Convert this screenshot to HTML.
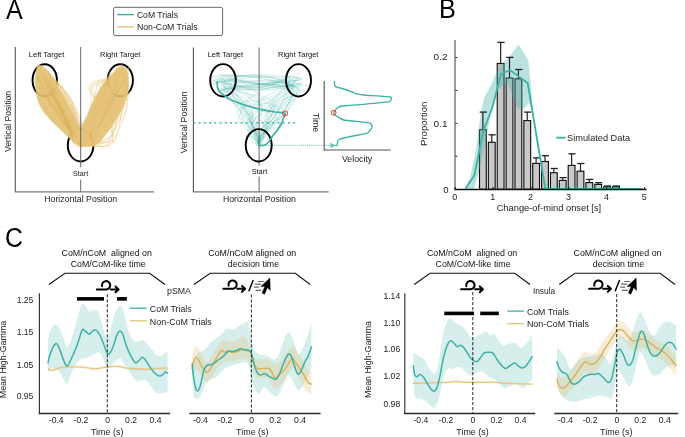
<!DOCTYPE html>
<html><head><meta charset="utf-8"><style>
html,body{margin:0;padding:0;background:#fff;}
svg{display:block;will-change:transform;}
text{font-family:"Liberation Sans",sans-serif;}
</style></head><body>
<svg width="685" height="437" viewBox="0 0 685 437">
<rect width="685" height="437" fill="#fff"/>
<text x="0" y="0" font-size="27" fill="#000" transform="translate(6.1,18.6) scale(0.93,1)">A</text>
<rect x="113.6" y="7.3" width="109" height="28.3" rx="1.8" fill="#fff" stroke="#555" stroke-width="0.9"/>
<line x1="117.1" y1="14.6" x2="133.9" y2="14.6" stroke="#3fb1a5" stroke-width="1.4" />
<line x1="117.1" y1="26.9" x2="133.9" y2="26.9" stroke="#e6c47a" stroke-width="1.4" />
<text x="136.9" y="17.9" font-size="8.7" text-anchor="start" fill="#222" textLength="41.2" lengthAdjust="spacingAndGlyphs" >CoM Trials</text>
<text x="136.9" y="30.1" font-size="8.7" text-anchor="start" fill="#222" textLength="60.8" lengthAdjust="spacingAndGlyphs" >Non-CoM Trials</text>
<ellipse cx="44.75" cy="80.3" rx="12.2" ry="16.1" fill="none" stroke="#000" stroke-width="1.9"/>
<ellipse cx="120.3" cy="80.3" rx="12.6" ry="16.1" fill="none" stroke="#000" stroke-width="1.9"/>
<ellipse cx="80.6" cy="145.3" rx="12.8" ry="16.2" fill="none" stroke="#000" stroke-width="1.9"/>
<path d="M38.3,65.2 C38.71,65.3 41.16,65.28 42.4,66.2 C43.64,67.12 49.36,72.75 50.7,74.4 C52.04,76.05 54.87,81.05 55.8,82.7 C56.73,84.35 59.07,89.05 60,90.9 C60.93,92.75 64.07,99.14 65.1,101.2 C66.13,103.26 69.27,109.64 70.3,111.5 C71.33,113.36 74.48,118.15 75.4,119.8 C76.32,121.45 78.78,126.56 79.5,128 C80.22,129.44 82.15,132.7 82.6,134.2 C83.05,135.7 84.21,141.79 84,143 C83.79,144.21 81.4,146.25 80.5,146.3 C79.6,146.35 76.25,144.48 75,143.5 C73.75,142.52 69.3,137.8 68,136.5 C66.7,135.2 63.2,131.65 62,130.5 C60.8,129.35 57.13,126.07 56,125 C54.87,123.93 52.06,121.35 50.7,119.8 C49.34,118.25 43.64,111.36 42.4,109.5 C41.16,107.64 38.92,103.06 38.3,101.2 C37.68,99.34 36.51,92.96 36.2,90.9 C35.89,88.84 35.2,82.45 35.2,80.6 C35.2,78.75 35.89,73.94 36.2,72.4 C36.51,70.86 38.09,65.92 38.3,65.2 Z" fill="#e2bf6e" fill-opacity="0.9" stroke="#e6c47a" stroke-opacity="0.55" stroke-width="1.4" stroke-linejoin="round"/>
<path d="M121.3,66.2 C121.82,66.51 125.78,67.86 126.5,69.3 C127.22,70.74 128.4,78.23 128.5,80.6 C128.6,82.97 127.91,90.94 127.5,93 C127.09,95.06 125.23,99.14 124.4,101.2 C123.57,103.26 120.34,111.33 119.2,113.6 C118.06,115.87 114.23,122.04 113,123.9 C111.77,125.76 108.2,130.44 106.9,132.2 C105.6,133.96 101.29,140.17 100,141.5 C98.71,142.83 95.4,145 94,145.5 C92.6,146 87.4,146.42 86,146.5 C84.6,146.58 80.65,146.95 80,146.3 C79.35,145.65 79.49,141.83 79.5,140 C79.51,138.17 79.63,129.81 80.1,128 C80.57,126.19 83.38,123.34 84.2,121.9 C85.02,120.46 87.48,115.46 88.3,113.6 C89.12,111.74 91.57,105.16 92.4,103.3 C93.23,101.44 95.57,96.86 96.6,95 C97.63,93.14 101.47,86.34 102.7,84.7 C103.93,83.06 107.35,80.25 108.9,78.6 C110.45,76.95 116.96,69.44 118.2,68.2 C119.44,66.96 120.99,66.4 121.3,66.2 Z" fill="#e2bf6e" fill-opacity="0.9" stroke="#e6c47a" stroke-opacity="0.55" stroke-width="1.4" stroke-linejoin="round"/>
<g fill="none" stroke-width="0.8" stroke-opacity="0.35">
<path d="M75.24,133.96 L73.42,129.17 L71.56,124.39 L69.65,119.64 L67.69,114.91 L65.68,110.2 L63.62,105.52 L61.52,100.85 L59.37,96.21 L57.17,91.59 L54.93,86.99 L52.63,82.41 L50.29,77.86 L47.9,73.32 L45.46,68.81" stroke="#f2dca8"/>
<path d="M77.83,143.83 L75.19,138.45 L72.54,133.08 L69.88,127.72 L67.21,122.36 L64.53,117.01 L61.83,111.67 L59.12,106.33 L56.39,101 L53.66,95.68 L50.91,90.36 L48.15,85.05 L45.38,79.74 L42.59,74.44 L39.79,69.15" stroke="#d6ad55"/>
<path d="M72.91,137.52 L70.81,132.82 L68.76,128.09 L66.75,123.36 L64.79,118.6 L62.88,113.83 L61.01,109.04 L59.19,104.23 L57.42,99.41 L55.69,94.56 L54.01,89.71 L52.37,84.83 L50.79,79.93 L49.24,75.02 L47.75,70.1" stroke="#dcb660"/>
<path d="M77.83,132.8 L75.17,128.34 L72.55,123.86 L69.97,119.35 L67.45,114.82 L64.96,110.26 L62.52,105.69 L60.13,101.09 L57.78,96.46 L55.47,91.82 L53.21,87.15 L50.99,82.45 L48.82,77.74 L46.69,73 L44.61,68.24" stroke="#dcb660"/>
<path d="M80.58,135.76 L77.49,131.14 L74.41,126.5 L71.34,121.85 L68.3,117.19 L65.28,112.52 L62.27,107.84 L59.28,103.14 L56.31,98.43 L53.36,93.71 L50.43,88.98 L47.51,84.24 L44.61,79.49 L41.74,74.72 L38.88,69.94" stroke="#dcb660"/>
<path d="M73.81,139.56 L72.11,134.89 L70.35,130.25 L68.55,125.62 L66.69,121.03 L64.79,116.45 L62.83,111.9 L60.82,107.37 L58.75,102.86 L56.64,98.38 L54.48,93.92 L52.26,89.48 L49.99,85.07 L47.68,80.68 L45.31,76.31" stroke="#d6ad55"/>
<path d="M77.64,140.05 L75.94,135.35 L74.13,130.73 L72.2,126.17 L70.15,121.67 L68,117.24 L65.73,112.87 L63.34,108.57 L60.84,104.34 L58.23,100.17 L55.5,96.06 L52.66,92.02 L49.71,88.05 L46.64,84.14 L43.45,80.29" stroke="#f2dca8"/>
<path d="M77.86,137.89 L75.77,133.84 L73.6,129.86 L71.35,125.93 L69.01,122.07 L66.58,118.27 L64.07,114.53 L61.48,110.86 L58.79,107.24 L56.02,103.69 L53.17,100.2 L50.23,96.77 L47.2,93.41 L44.09,90.1 L40.9,86.86" stroke="#d6ad55"/>
<path d="M72.82,135.9 L70.86,131.53 L68.88,127.16 L66.88,122.8 L64.86,118.46 L62.81,114.12 L60.75,109.8 L58.66,105.49 L56.55,101.18 L54.42,96.89 L52.26,92.61 L50.09,88.34 L47.89,84.08 L45.68,79.83 L43.44,75.59" stroke="#dcb660"/>
<path d="M81.8,133.53 L78.63,130.44 L75.5,127.29 L72.44,124.1 L69.43,120.86 L66.48,117.58 L63.58,114.25 L60.74,110.87 L57.96,107.44 L55.23,103.97 L52.56,100.46 L49.95,96.9 L47.39,93.29 L44.88,89.63 L42.44,85.93" stroke="#f2dca8"/>
<path d="M76.22,144.51 L74.24,139.51 L72.15,134.59 L69.94,129.74 L67.62,124.95 L65.18,120.24 L62.62,115.6 L59.95,111.02 L57.17,106.52 L54.26,102.08 L51.24,97.72 L48.11,93.42 L44.86,89.2 L41.49,85.04 L38.01,80.95" stroke="#f2dca8"/>
<path d="M75.4,136.55 L72.57,133.36 L69.83,130.11 L67.17,126.81 L64.59,123.45 L62.1,120.05 L59.69,116.58 L57.37,113.06 L55.13,109.49 L52.97,105.87 L50.9,102.18 L48.91,98.45 L47.01,94.66 L45.19,90.82 L43.46,86.92" stroke="#d6ad55"/>
<path d="M81.45,138.16 L79.51,132.87 L77.47,127.63 L75.34,122.43 L73.11,117.29 L70.79,112.19 L68.37,107.14 L65.86,102.15 L63.26,97.2 L60.56,92.29 L57.76,87.44 L54.87,82.64 L51.89,77.88 L48.81,73.17 L45.63,68.52" stroke="#dcb660"/>
<path d="M77.78,140.86 L76.2,136.28 L74.48,131.8 L72.62,127.41 L70.62,123.1 L68.47,118.88 L66.19,114.75 L63.76,110.71 L61.19,106.76 L58.48,102.9 L55.62,99.13 L52.63,95.44 L49.49,91.84 L46.21,88.34 L42.79,84.92" stroke="#f2dca8"/>
<path d="M72.23,138 L69.26,133.43 L66.39,128.82 L63.61,124.16 L60.93,119.45 L58.34,114.7 L55.84,109.91 L53.43,105.07 L51.12,100.18 L48.9,95.25 L46.77,90.28 L44.73,85.26 L42.79,80.19 L40.94,75.08 L39.18,69.93" stroke="#f2dca8"/>
<path d="M73.29,135.22 L70.55,132.25 L67.88,129.23 L65.29,126.15 L62.78,123.02 L60.35,119.84 L58,116.61 L55.73,113.32 L53.54,109.97 L51.43,106.58 L49.4,103.12 L47.45,99.62 L45.58,96.06 L43.79,92.45 L42.08,88.79" stroke="#f2dca8"/>
<path d="M76.02,135.61 L73.67,131.28 L71.27,126.98 L68.83,122.7 L66.34,118.46 L63.8,114.25 L61.21,110.08 L58.58,105.93 L55.89,101.81 L53.16,97.73 L50.38,93.67 L47.55,89.65 L44.68,85.66 L41.75,81.69 L38.78,77.76" stroke="#dcb660"/>
<path d="M76.15,136.66 L73.77,133.64 L71.45,130.59 L69.19,127.49 L67,124.36 L64.87,121.19 L62.8,117.98 L60.79,114.73 L58.85,111.45 L56.96,108.12 L55.14,104.76 L53.39,101.37 L51.69,97.93 L50.06,94.46 L48.49,90.94" stroke="#d6ad55"/>
<path d="M73.51,140.56 L70.58,137.02 L67.7,133.45 L64.87,129.84 L62.09,126.19 L59.36,122.51 L56.69,118.8 L54.07,115.04 L51.49,111.26 L48.98,107.43 L46.51,103.57 L44.09,99.68 L41.73,95.75 L39.42,91.78 L37.16,87.78" stroke="#f2dca8"/>
<path d="M72.04,137.45 L70.96,132.85 L69.72,128.33 L68.3,123.91 L66.73,119.58 L64.98,115.33 L63.07,111.18 L60.99,107.11 L58.75,103.14 L56.34,99.25 L53.77,95.45 L51.02,91.75 L48.12,88.13 L45.04,84.6 L41.8,81.16" stroke="#dcb660"/>
<path d="M80.59,144.35 L78.24,140.06 L75.86,135.78 L73.45,131.52 L71.03,127.26 L68.58,123.03 L66.11,118.8 L63.61,114.59 L61.1,110.39 L58.56,106.21 L55.99,102.04 L53.41,97.88 L50.8,93.74 L48.17,89.61 L45.51,85.49" stroke="#dcb660"/>
<path d="M79.98,137.1 L77.76,132.01 L75.47,126.96 L73.1,121.95 L70.66,116.98 L68.14,112.06 L65.56,107.17 L62.89,102.33 L60.16,97.53 L57.35,92.77 L54.46,88.05 L51.5,83.37 L48.47,78.74 L45.37,74.14 L42.19,69.59" stroke="#d6ad55"/>
<path d="M73.91,144.8 L72.12,139.26 L70.27,133.74 L68.35,128.25 L66.36,122.79 L64.3,117.36 L62.18,111.96 L59.98,106.58 L57.72,101.23 L55.39,95.92 L53,90.63 L50.53,85.36 L48,80.13 L45.4,74.93 L42.73,69.75" stroke="#d6ad55"/>
<path d="M72,133.97 L68.96,130.21 L66.01,126.39 L63.16,122.51 L60.41,118.58 L57.75,114.59 L55.2,110.54 L52.74,106.43 L50.39,102.27 L48.13,98.05 L45.97,93.77 L43.91,89.44 L41.95,85.05 L40.08,80.6 L38.32,76.09" stroke="#d6ad55"/>
<path d="M78.14,133.93 L75.42,129.78 L72.7,125.63 L69.98,121.48 L67.26,117.33 L64.55,113.17 L61.84,109.01 L59.14,104.86 L56.43,100.69 L53.73,96.53 L51.04,92.37 L48.34,88.2 L45.65,84.03 L42.96,79.86 L40.28,75.68" stroke="#d6ad55"/>
<path d="M73.15,138.34 L71.35,134.16 L69.57,129.96 L67.81,125.76 L66.07,121.54 L64.35,117.32 L62.65,113.1 L60.96,108.86 L59.3,104.62 L57.65,100.37 L56.03,96.11 L54.42,91.85 L52.83,87.58 L51.26,83.3 L49.71,79.01" stroke="#d6ad55"/>
<path d="M73.02,136.45 L70.32,133.23 L67.67,129.96 L65.08,126.65 L62.55,123.31 L60.08,119.92 L57.67,116.5 L55.31,113.04 L53.01,109.54 L50.77,106 L48.59,102.42 L46.47,98.8 L44.4,95.15 L42.39,91.45 L40.44,87.72" stroke="#d6ad55"/>
<path d="M74.05,144.38 L72.75,139.54 L71.29,134.79 L69.68,130.12 L67.91,125.53 L65.99,121.03 L63.91,116.61 L61.68,112.27 L59.29,108.02 L56.74,103.85 L54.05,99.76 L51.19,95.76 L48.18,91.84 L45.02,88 L41.7,84.25" stroke="#dcb660"/>
<path d="M74.98,140.36 L72.6,136.45 L70.18,132.57 L67.73,128.72 L65.23,124.9 L62.7,121.1 L60.13,117.33 L57.52,113.59 L54.87,109.87 L52.19,106.18 L49.46,102.52 L46.7,98.88 L43.9,95.27 L41.06,91.69 L38.18,88.14" stroke="#d6ad55"/>
<path d="M75.56,134.9 L73.79,130.67 L71.94,126.49 L70.03,122.34 L68.04,118.24 L65.97,114.19 L63.83,110.17 L61.62,106.2 L59.33,102.27 L56.97,98.38 L54.53,94.53 L52.02,90.73 L49.43,86.96 L46.77,83.24 L44.04,79.57" stroke="#dcb660"/>
<path d="M80.12,144.8 L78.65,140.23 L77.06,135.72 L75.34,131.29 L73.49,126.93 L71.52,122.63 L69.42,118.41 L67.2,114.26 L64.85,110.17 L62.37,106.16 L59.77,102.22 L57.04,98.35 L54.18,94.54 L51.19,90.81 L48.08,87.15" stroke="#dcb660"/>
<path d="M80.03,134.6 L78.46,130.3 L76.73,126.12 L74.84,122.06 L72.79,118.11 L70.58,114.29 L68.2,110.59 L65.67,107.01 L62.97,103.54 L60.11,100.2 L57.09,96.97 L53.91,93.87 L50.57,90.89 L47.07,88.02 L43.41,85.28" stroke="#f2dca8"/>
<path d="M76.72,134.52 L75.26,129.87 L73.67,125.29 L71.95,120.78 L70.11,116.34 L68.15,111.96 L66.06,107.65 L63.85,103.41 L61.51,99.24 L59.05,95.13 L56.46,91.09 L53.75,87.12 L50.91,83.21 L47.95,79.38 L44.87,75.61" stroke="#dcb660"/>
<path d="M81.88,144.42 L78.74,139.43 L75.64,134.43 L72.58,129.4 L69.57,124.34 L66.59,119.27 L63.66,114.17 L60.78,109.04 L57.93,103.89 L55.13,98.72 L52.36,93.53 L49.64,88.31 L46.97,83.07 L44.33,77.8 L41.74,72.51" stroke="#d6ad55"/>
<path d="M75.38,138.27 L72.83,134.6 L70.39,130.88 L68.07,127.11 L65.86,123.28 L63.75,119.41 L61.76,115.48 L59.88,111.5 L58.11,107.48 L56.45,103.4 L54.9,99.27 L53.46,95.1 L52.13,90.87 L50.91,86.59 L49.81,82.26" stroke="#dcb660"/>
<path d="M75.44,140.36 L73.5,135.32 L71.55,130.29 L69.6,125.26 L67.64,120.22 L65.68,115.19 L63.71,110.17 L61.75,105.14 L59.77,100.11 L57.8,95.09 L55.82,90.07 L53.83,85.05 L51.84,80.03 L49.85,75.01 L47.85,70" stroke="#dcb660"/>
<path d="M79.5,138.21 L76.56,134.59 L73.63,130.96 L70.71,127.32 L67.8,123.67 L64.91,120.02 L62.02,116.35 L59.14,112.68 L56.28,109 L53.42,105.31 L50.58,101.61 L47.75,97.9 L44.93,94.19 L42.12,90.46 L39.32,86.73" stroke="#dcb660"/>
<path d="M75.96,137.22 L73.67,133.69 L71.44,130.14 L69.26,126.56 L67.15,122.94 L65.1,119.3 L63.11,115.62 L61.17,111.92 L59.3,108.18 L57.49,104.41 L55.73,100.61 L54.04,96.79 L52.4,92.93 L50.82,89.04 L49.31,85.12" stroke="#d6ad55"/>
<path d="M72.28,139.68 L70.63,135.43 L68.92,131.21 L67.14,127.03 L65.3,122.89 L63.38,118.78 L61.4,114.7 L59.34,110.67 L57.22,106.66 L55.03,102.7 L52.77,98.77 L50.44,94.87 L48.05,91.01 L45.58,87.19 L43.05,83.4" stroke="#dcb660"/>
<path d="M81.8,140.54 L78.5,136.56 L75.26,132.53 L72.09,128.46 L68.98,124.34 L65.94,120.18 L62.97,115.97 L60.06,111.72 L57.22,107.42 L54.44,103.08 L51.73,98.7 L49.09,94.27 L46.51,89.8 L44,85.28 L41.56,80.72" stroke="#d6ad55"/>
<path d="M79.99,141.44 L76.62,137.76 L73.3,134.04 L70.05,130.27 L66.86,126.45 L63.73,122.59 L60.66,118.68 L57.65,114.72 L54.71,110.72 L51.83,106.67 L49.01,102.58 L46.25,98.43 L43.55,94.25 L40.91,90.02 L38.34,85.74" stroke="#d6ad55"/>
<path d="M80.26,134.74 L77.17,130.59 L74.11,126.4 L71.09,122.2 L68.1,117.97 L65.16,113.71 L62.25,109.43 L59.37,105.13 L56.53,100.8 L53.73,96.45 L50.97,92.07 L48.24,87.67 L45.55,83.25 L42.89,78.8 L40.27,74.32" stroke="#dcb660"/>
<path d="M75.26,139.08 L74.02,133.76 L72.68,128.48 L71.22,123.25 L69.65,118.06 L67.97,112.91 L66.18,107.8 L64.27,102.74 L62.26,97.72 L60.13,92.75 L57.9,87.82 L55.55,82.93 L53.09,78.08 L50.52,73.28 L47.84,68.52" stroke="#f2dca8"/>
<path d="M78.62,142.6 L77.03,138.1 L75.3,133.69 L73.43,129.37 L71.42,125.14 L69.28,121 L66.99,116.94 L64.57,112.98 L62.01,109.1 L59.3,105.31 L56.46,101.61 L53.49,97.99 L50.37,94.47 L47.11,91.03 L43.72,87.68" stroke="#d6ad55"/>
<path d="M77.32,138.81 L74.12,134.69 L70.97,130.53 L67.87,126.35 L64.82,122.12 L61.83,117.87 L58.89,113.57 L56,109.25 L53.16,104.89 L50.38,100.49 L47.65,96.06 L44.97,91.6 L42.34,87.1 L39.77,82.57 L37.24,78" stroke="#d6ad55"/>
<path d="M91.86,134.1 L93.89,130.8 L95.83,127.47 L97.68,124.1 L99.45,120.7 L101.13,117.26 L102.73,113.79 L104.24,110.28 L105.66,106.74 L107,103.16 L108.25,99.54 L109.42,95.89 L110.5,92.2 L111.5,88.48 L112.41,84.72" stroke="#d6ad55"/>
<path d="M85.56,139.26 L88.5,136.03 L91.36,132.75 L94.14,129.42 L96.84,126.03 L99.46,122.59 L102,119.09 L104.46,115.54 L106.84,111.94 L109.14,108.28 L111.36,104.57 L113.5,100.8 L115.56,96.98 L117.54,93.1 L119.44,89.18" stroke="#dcb660"/>
<path d="M81.8,134.68 L83.93,130.14 L86.06,125.59 L88.17,121.04 L90.27,116.48 L92.36,111.92 L94.45,107.35 L96.52,102.78 L98.58,98.2 L100.63,93.62 L102.67,89.03 L104.7,84.44 L106.71,79.85 L108.72,75.24 L110.72,70.64" stroke="#d6ad55"/>
<path d="M91.64,144.77 L93.48,140.47 L95.32,136.16 L97.17,131.86 L99.01,127.55 L100.86,123.25 L102.71,118.95 L104.56,114.64 L106.41,110.34 L108.26,106.04 L110.11,101.74 L111.97,97.44 L113.82,93.14 L115.68,88.84 L117.54,84.54" stroke="#dcb660"/>
<path d="M83.79,135.88 L86.27,132.58 L88.75,129.28 L91.23,125.99 L93.72,122.69 L96.2,119.4 L98.69,116.1 L101.18,112.81 L103.67,109.52 L106.16,106.23 L108.65,102.94 L111.15,99.65 L113.64,96.37 L116.14,93.08 L118.64,89.8" stroke="#d6ad55"/>
<path d="M90.79,144.27 L93.22,139.28 L95.67,134.3 L98.12,129.32 L100.59,124.35 L103.08,119.39 L105.57,114.43 L108.08,109.48 L110.61,104.53 L113.14,99.6 L115.69,94.67 L118.25,89.74 L120.83,84.82 L123.42,79.91 L126.02,75.01" stroke="#d6ad55"/>
<path d="M92.76,133.92 L94.78,130.29 L96.7,126.63 L98.52,122.93 L100.25,119.2 L101.87,115.43 L103.4,111.63 L104.83,107.79 L106.16,103.92 L107.39,100.01 L108.52,96.07 L109.56,92.09 L110.49,88.07 L111.33,84.02 L112.07,79.94" stroke="#d6ad55"/>
<path d="M87,134.98 L88.6,130.25 L90.27,125.55 L92.01,120.88 L93.8,116.24 L95.65,111.62 L97.57,107.03 L99.55,102.47 L101.59,97.93 L103.7,93.43 L105.86,88.95 L108.09,84.5 L110.38,80.07 L112.73,75.67 L115.15,71.3" stroke="#dcb660"/>
<path d="M90.01,137.13 L91.79,132.47 L93.57,127.81 L95.34,123.15 L97.1,118.49 L98.85,113.82 L100.6,109.16 L102.34,104.48 L104.07,99.81 L105.79,95.13 L107.51,90.45 L109.22,85.77 L110.92,81.08 L112.62,76.4 L114.3,71.71" stroke="#dcb660"/>
<path d="M94.34,137.58 L95.58,134.26 L96.9,130.98 L98.29,127.74 L99.76,124.54 L101.29,121.38 L102.89,118.26 L104.57,115.18 L106.31,112.14 L108.13,109.14 L110.02,106.17 L111.98,103.25 L114.01,100.37 L116.11,97.53 L118.28,94.73" stroke="#d6ad55"/>
<path d="M90.89,145.92 L92.96,141.25 L94.99,136.56 L96.99,131.87 L98.96,127.16 L100.9,122.44 L102.81,117.71 L104.68,112.96 L106.52,108.2 L108.32,103.43 L110.1,98.64 L111.84,93.84 L113.55,89.03 L115.22,84.21 L116.86,79.37" stroke="#d6ad55"/>
<path d="M91.11,132.27 L93.81,128.9 L96.4,125.46 L98.89,121.97 L101.27,118.43 L103.56,114.83 L105.73,111.17 L107.81,107.46 L109.78,103.69 L111.64,99.86 L113.41,95.98 L115.07,92.04 L116.62,88.05 L118.07,84 L119.42,79.89" stroke="#f2dca8"/>
<path d="M88.24,136.14 L90.39,131.15 L92.62,126.22 L94.95,121.33 L97.36,116.5 L99.86,111.73 L102.44,107 L105.12,102.32 L107.89,97.7 L110.74,93.13 L113.68,88.61 L116.71,84.14 L119.83,79.72 L123.04,75.36 L126.33,71.05" stroke="#d6ad55"/>
<path d="M94.6,133.47 L95.6,128.74 L96.66,124.03 L97.79,119.33 L98.99,114.66 L100.25,110.01 L101.57,105.38 L102.96,100.77 L104.41,96.18 L105.93,91.61 L107.52,87.06 L109.17,82.54 L110.89,78.03 L112.67,73.54 L114.51,69.07" stroke="#f2dca8"/>
<path d="M91.58,143.48 L93.31,139.04 L95.14,134.65 L97.06,130.32 L99.08,126.04 L101.19,121.82 L103.39,117.65 L105.69,113.53 L108.09,109.47 L110.58,105.47 L113.16,101.51 L115.84,97.62 L118.61,93.77 L121.48,89.99 L124.44,86.25" stroke="#f2dca8"/>
<path d="M83.09,144.87 L86.26,141.08 L89.34,137.23 L92.34,133.33 L95.25,129.38 L98.08,125.38 L100.82,121.32 L103.48,117.21 L106.05,113.04 L108.54,108.82 L110.94,104.54 L113.26,100.22 L115.49,95.84 L117.64,91.4 L119.7,86.91" stroke="#d6ad55"/>
<path d="M92.19,134.57 L95.23,130.7 L98.15,126.79 L100.98,122.81 L103.7,118.77 L106.32,114.68 L108.83,110.53 L111.24,106.32 L113.55,102.06 L115.75,97.74 L117.85,93.36 L119.85,88.92 L121.74,84.42 L123.53,79.87 L125.22,75.26" stroke="#d6ad55"/>
<path d="M92.22,133.17 L94.02,128.38 L95.89,123.63 L97.85,118.93 L99.88,114.26 L101.99,109.63 L104.18,105.04 L106.45,100.5 L108.8,95.99 L111.23,91.52 L113.74,87.1 L116.32,82.71 L118.99,78.37 L121.73,74.06 L124.56,69.8" stroke="#f2dca8"/>
<path d="M81.16,145.92 L83.57,142.01 L86,138.12 L88.46,134.24 L90.94,130.39 L93.44,126.54 L95.97,122.72 L98.53,118.91 L101.11,115.12 L103.71,111.34 L106.34,107.58 L108.99,103.84 L111.67,100.12 L114.37,96.41 L117.1,92.72" stroke="#d6ad55"/>
<path d="M88.38,135.34 L90.72,131.09 L92.97,126.8 L95.11,122.48 L97.15,118.11 L99.09,113.71 L100.92,109.27 L102.65,104.79 L104.27,100.27 L105.79,95.72 L107.21,91.12 L108.53,86.49 L109.74,81.82 L110.85,77.11 L111.86,72.36" stroke="#d6ad55"/>
<path d="M94.05,140.8 L95.92,136.03 L97.77,131.25 L99.61,126.47 L101.44,121.68 L103.25,116.89 L105.06,112.09 L106.85,107.29 L108.62,102.49 L110.39,97.68 L112.14,92.86 L113.88,88.04 L115.61,83.22 L117.33,78.39 L119.03,73.56" stroke="#dcb660"/>
<path d="M83.49,136.86 L86.11,132.73 L88.63,128.55 L91.04,124.33 L93.33,120.06 L95.52,115.74 L97.6,111.37 L99.57,106.96 L101.43,102.5 L103.18,98 L104.83,93.44 L106.36,88.84 L107.79,84.2 L109.1,79.5 L110.31,74.76" stroke="#dcb660"/>
<path d="M88.08,145.69 L90.35,140.65 L92.6,135.6 L94.85,130.55 L97.08,125.49 L99.3,120.43 L101.51,115.36 L103.7,110.29 L105.89,105.21 L108.06,100.13 L110.22,95.04 L112.37,89.95 L114.5,84.85 L116.63,79.74 L118.74,74.63" stroke="#dcb660"/>
<path d="M92.46,138.05 L94.47,134.74 L96.45,131.41 L98.4,128.08 L100.34,124.73 L102.25,121.36 L104.14,117.99 L106,114.6 L107.85,111.2 L109.66,107.79 L111.46,104.36 L113.23,100.92 L114.98,97.47 L116.71,94.01 L118.42,90.53" stroke="#dcb660"/>
<path d="M85.31,135.01 L86.8,130.35 L88.38,125.73 L90.04,121.15 L91.78,116.61 L93.61,112.11 L95.53,107.65 L97.53,103.22 L99.61,98.84 L101.78,94.5 L104.04,90.19 L106.38,85.92 L108.8,81.7 L111.31,77.51 L113.9,73.36" stroke="#dcb660"/>
<path d="M89.9,137.67 L92.31,133 L94.64,128.31 L96.87,123.59 L99.03,118.83 L101.1,114.04 L103.08,109.21 L104.98,104.36 L106.8,99.47 L108.53,94.55 L110.17,89.6 L111.73,84.62 L113.21,79.6 L114.6,74.55 L115.91,69.47" stroke="#d6ad55"/>
<path d="M89.76,144.32 L91.48,138.88 L93.24,133.46 L95.04,128.05 L96.87,122.66 L98.75,117.28 L100.66,111.92 L102.61,106.56 L104.6,101.23 L106.62,95.9 L108.69,90.59 L110.79,85.3 L112.93,80.02 L115.11,74.75 L117.32,69.5" stroke="#f2dca8"/>
<path d="M93.19,141.39 L95.04,136.71 L96.85,132.02 L98.61,127.32 L100.32,122.6 L101.99,117.86 L103.6,113.11 L105.17,108.35 L106.69,103.56 L108.16,98.76 L109.58,93.95 L110.96,89.12 L112.29,84.28 L113.56,79.42 L114.79,74.54" stroke="#f2dca8"/>
<path d="M83.59,135.77 L85.73,131.74 L87.83,127.7 L89.9,123.64 L91.92,119.56 L93.9,115.47 L95.85,111.36 L97.76,107.23 L99.63,103.08 L101.47,98.91 L103.26,94.73 L105.02,90.53 L106.74,86.32 L108.42,82.08 L110.06,77.83" stroke="#dcb660"/>
<path d="M85.53,132.48 L88.77,128.58 L91.94,124.63 L95.05,120.64 L98.09,116.61 L101.08,112.53 L103.99,108.41 L106.84,104.25 L109.63,100.04 L112.35,95.79 L115.01,91.49 L117.61,87.16 L120.13,82.77 L122.6,78.35 L125,73.88" stroke="#f2dca8"/>
<path d="M86.34,138.65 L88.64,133.98 L90.93,129.32 L93.23,124.66 L95.52,120 L97.82,115.34 L100.12,110.68 L102.42,106.02 L104.72,101.36 L107.02,96.71 L109.32,92.05 L111.63,87.39 L113.93,82.74 L116.24,78.08 L118.55,73.43" stroke="#d6ad55"/>
<path d="M82.27,143.44 L84.58,139.26 L86.86,135.07 L89.12,130.86 L91.36,126.65 L93.57,122.42 L95.76,118.18 L97.93,113.93 L100.07,109.67 L102.19,105.39 L104.29,101.11 L106.36,96.81 L108.41,92.5 L110.44,88.18 L112.45,83.84" stroke="#f2dca8"/>
<path d="M85.26,135.26 L87.4,131.26 L89.6,127.29 L91.85,123.35 L94.15,119.45 L96.5,115.58 L98.9,111.75 L101.35,107.95 L103.85,104.18 L106.41,100.45 L109.02,96.75 L111.67,93.08 L114.38,89.45 L117.14,85.85 L119.95,82.29" stroke="#dcb660"/>
<path d="M93.5,142.98 L95.09,138.94 L96.72,134.93 L98.41,130.94 L100.14,126.97 L101.92,123.03 L103.75,119.12 L105.63,115.22 L107.56,111.35 L109.53,107.51 L111.56,103.69 L113.63,99.89 L115.75,96.11 L117.92,92.36 L120.14,88.64" stroke="#f2dca8"/>
<path d="M83.09,142.14 L85.32,136.68 L87.62,131.26 L90,125.88 L92.45,120.54 L94.97,115.23 L97.56,109.96 L100.23,104.73 L102.97,99.54 L105.78,94.39 L108.66,89.27 L111.62,84.19 L114.65,79.15 L117.76,74.15 L120.93,69.18" stroke="#dcb660"/>
<path d="M89.78,142.27 L92.18,137.22 L94.58,132.17 L96.99,127.12 L99.4,122.08 L101.82,117.03 L104.24,111.99 L106.67,106.96 L109.1,101.92 L111.54,96.89 L113.98,91.86 L116.43,86.83 L118.88,81.8 L121.34,76.78 L123.81,71.76" stroke="#dcb660"/>
<path d="M88.96,143.38 L90.04,139.15 L91.18,134.95 L92.4,130.78 L93.68,126.63 L95.03,122.5 L96.45,118.4 L97.94,114.33 L99.5,110.28 L101.12,106.26 L102.82,102.26 L104.58,98.29 L106.41,94.35 L108.31,90.43 L110.27,86.53" stroke="#dcb660"/>
<path d="M90.56,141.71 L92.78,136.68 L94.92,131.63 L96.98,126.55 L98.94,121.44 L100.82,116.3 L102.62,111.14 L104.33,105.95 L105.96,100.73 L107.5,95.48 L108.95,90.21 L110.32,84.91 L111.6,79.58 L112.8,74.22 L113.91,68.84" stroke="#f2dca8"/>
<path d="M94.43,137.27 L96.82,132.67 L99.09,128.03 L101.25,123.35 L103.3,118.64 L105.24,113.88 L107.07,109.09 L108.78,104.26 L110.39,99.39 L111.88,94.48 L113.26,89.53 L114.53,84.55 L115.69,79.53 L116.74,74.47 L117.67,69.37" stroke="#dcb660"/>
<path d="M90.53,138.85 L91.56,135.18 L92.64,131.54 L93.78,127.91 L94.98,124.31 L96.23,120.73 L97.54,117.18 L98.91,113.65 L100.33,110.13 L101.81,106.65 L103.35,103.18 L104.94,99.74 L106.59,96.31 L108.29,92.91 L110.06,89.54" stroke="#dcb660"/>
<path d="M93.57,133.29 L95.42,130.08 L97.26,126.87 L99.1,123.66 L100.93,120.45 L102.76,117.23 L104.58,114.01 L106.39,110.79 L108.2,107.56 L110.01,104.33 L111.8,101.1 L113.6,97.86 L115.38,94.62 L117.17,91.38 L118.94,88.13" stroke="#d6ad55"/>
<path d="M92.85,135.29 L94.78,130.82 L96.74,126.37 L98.73,121.94 L100.76,117.52 L102.82,113.12 L104.92,108.73 L107.05,104.36 L109.21,100.01 L111.4,95.67 L113.63,91.35 L115.88,87.05 L118.18,82.76 L120.5,78.49 L122.86,74.23" stroke="#f2dca8"/>
<path d="M87.92,137.36 L89.71,133.5 L91.56,129.68 L93.47,125.9 L95.43,122.15 L97.45,118.43 L99.52,114.74 L101.65,111.09 L103.84,107.47 L106.08,103.89 L108.38,100.33 L110.74,96.82 L113.15,93.33 L115.62,89.88 L118.14,86.46" stroke="#dcb660"/>
<path d="M89.86,134.78 L91.81,130.53 L93.8,126.31 L95.82,122.1 L97.87,117.91 L99.95,113.74 L102.07,109.58 L104.22,105.44 L106.41,101.32 L108.62,97.22 L110.87,93.13 L113.15,89.06 L115.47,85.01 L117.81,80.98 L120.19,76.96" stroke="#dcb660"/>
<path d="M85.26,139.95 L87.39,135.05 L89.47,130.13 L91.49,125.19 L93.46,120.24 L95.37,115.26 L97.24,110.27 L99.04,105.26 L100.8,100.23 L102.5,95.17 L104.15,90.11 L105.75,85.02 L107.29,79.91 L108.78,74.78 L110.21,69.64" stroke="#dcb660"/>
</g>
<g fill="none" stroke="#e6c47a" stroke-width="0.9" stroke-opacity="0.5" stroke-linejoin="round">
<path d="M80.85,143.82 L79.04,137.54 L77.03,131.37 L74.8,125.32 L72.37,119.4 L69.73,113.59 L66.88,107.9 L63.83,102.33 L60.57,96.87 L57.1,91.54 L53.43,86.33 L49.54,81.23 L45.45,76.25 L41.15,71.39 L36.65,66.65"/>
<path d="M77.5,143.73 L76.35,137.52 L74.97,131.42 L73.38,125.43 L71.55,119.54 L69.5,113.77 L67.22,108.09 L64.72,102.53 L61.99,97.07 L59.04,91.72 L55.86,86.48 L52.46,81.35 L48.83,76.32 L44.97,71.39 L40.89,66.58"/>
<path d="M81.46,144.16 L80.29,137.62 L78.83,131.24 L77.08,125.02 L75.05,118.95 L72.72,113.05 L70.11,107.3 L67.21,101.72 L64.03,96.29 L60.55,91.03 L56.79,85.92 L52.74,80.97 L48.4,76.18 L43.77,71.55 L38.85,67.08"/>
<path d="M84.79,142.78 L84.08,135.71 L82.94,128.91 L81.38,122.38 L79.4,116.12 L77,110.15 L74.18,104.44 L70.94,99.01 L67.27,93.85 L63.19,88.97 L58.69,84.37 L53.76,80.03 L48.42,75.98 L42.65,72.19 L36.47,68.68"/>
<path d="M80.58,143.39 L79.14,137.14 L77.47,131.02 L75.56,125.03 L73.42,119.17 L71.03,113.43 L68.42,107.83 L65.56,102.36 L62.47,97.01 L59.15,91.8 L55.59,86.71 L51.79,81.76 L47.76,76.93 L43.49,72.23 L38.98,67.67"/>
<path d="M78.31,141.29 L77.05,135.17 L75.55,129.18 L73.81,123.31 L71.83,117.58 L69.62,111.97 L67.16,106.48 L64.46,101.13 L61.52,95.9 L58.34,90.8 L54.93,85.83 L51.27,80.99 L47.38,76.27 L43.24,71.68 L38.86,67.22"/>
<path d="M76.93,143.05 L77.13,136.12 L76.87,129.42 L76.16,122.95 L74.99,116.71 L73.37,110.71 L71.29,104.93 L68.76,99.39 L65.78,94.07 L62.34,88.99 L58.44,84.14 L54.09,79.52 L49.28,75.13 L44.02,70.97 L38.31,67.05"/>
<path d="M79.36,141.15 L78.03,135.05 L76.46,129.1 L74.65,123.27 L72.59,117.58 L70.3,112.02 L67.76,106.6 L64.98,101.31 L61.96,96.16 L58.7,91.14 L55.2,86.25 L51.46,81.5 L47.47,76.88 L43.24,72.39 L38.78,68.04"/>
<path d="M80.98,144.24 L79.55,137.87 L77.88,131.64 L75.96,125.55 L73.79,119.6 L71.37,113.79 L68.7,108.12 L65.78,102.58 L62.61,97.18 L59.2,91.93 L55.53,86.81 L51.62,81.83 L47.46,76.98 L43.05,72.28 L38.38,67.72"/>
<path d="M80.92,142.51 L79.4,136.42 L77.69,130.43 L75.77,124.54 L73.65,118.76 L71.33,113.08 L68.81,107.51 L66.1,102.04 L63.18,96.68 L60.06,91.42 L56.74,86.26 L53.22,81.21 L49.5,76.26 L45.58,71.42 L41.46,66.68"/>
<path d="M81.37,143.79 L81.23,136.74 L80.64,129.93 L79.62,123.37 L78.16,117.04 L76.26,110.95 L73.92,105.1 L71.14,99.49 L67.93,94.12 L64.27,88.99 L60.18,84.1 L55.64,79.45 L50.67,75.04 L45.26,70.87 L39.41,66.94"/>
<path d="M80.1,139.08 L79.38,132.66 L78.31,126.44 L76.9,120.41 L75.15,114.58 L73.06,108.94 L70.63,103.5 L67.86,98.26 L64.74,93.2 L61.29,88.35 L57.5,83.68 L53.36,79.21 L48.88,74.94 L44.07,70.86 L38.91,66.98"/>
<path d="M79.44,142.15 L78.11,136.02 L76.57,130 L74.79,124.1 L72.8,118.31 L70.58,112.64 L68.14,107.09 L65.48,101.65 L62.59,96.32 L59.48,91.11 L56.15,86.02 L52.59,81.04 L48.81,76.17 L44.81,71.42 L40.58,66.79"/>
<path d="M80.38,139.53 L79.85,132.93 L78.94,126.54 L77.65,120.36 L75.99,114.4 L73.95,108.66 L71.53,103.13 L68.74,97.82 L65.57,92.72 L62.03,87.84 L58.11,83.17 L53.82,78.72 L49.14,74.49 L44.1,70.47 L38.67,66.66"/>
<path d="M77.52,145.4 L75.6,139.33 L73.55,133.34 L71.35,127.41 L69.02,121.56 L66.55,115.77 L63.93,110.06 L61.18,104.41 L58.3,98.83 L55.27,93.33 L52.1,87.89 L48.8,82.52 L45.35,77.22 L41.77,72 L38.05,66.84"/>
<path d="M81.41,142.16 L81.03,135.26 L80.23,128.59 L79.03,122.15 L77.4,115.96 L75.36,110 L72.91,104.28 L70.05,98.79 L66.77,93.54 L63.07,88.53 L58.96,83.76 L54.44,79.22 L49.5,74.93 L44.15,70.87 L38.39,67.04"/>
<path d="M76.71,143.4 L75.65,137.07 L74.32,130.88 L72.74,124.82 L70.9,118.88 L68.79,113.08 L66.43,107.41 L63.8,101.88 L60.92,96.47 L57.77,91.19 L54.36,86.05 L50.69,81.04 L46.77,76.15 L42.58,71.4 L38.13,66.78"/>
<path d="M79.77,144.51 L78.5,138.2 L76.97,132.03 L75.19,126 L73.15,120.1 L70.86,114.34 L68.32,108.72 L65.52,103.24 L62.47,97.89 L59.17,92.68 L55.61,87.6 L51.8,82.67 L47.74,77.87 L43.42,73.2 L38.85,68.68"/>
<path d="M80.12,145.29 L79.37,138.54 L78.28,131.96 L76.84,125.57 L75.07,119.36 L72.95,113.33 L70.5,107.47 L67.71,101.8 L64.57,96.31 L61.1,91 L57.29,85.87 L53.13,80.92 L48.64,76.16 L43.8,71.57 L38.63,67.16"/>
<path d="M81.57,144.07 L80.33,137.69 L78.82,131.46 L77.04,125.37 L75,119.44 L72.68,113.65 L70.09,108.01 L67.24,102.52 L64.11,97.18 L60.72,91.99 L57.06,86.95 L53.13,82.05 L48.93,77.3 L44.46,72.71 L39.72,68.26"/>
<path d="M78.74,145.93 L77.06,139.64 L75.18,133.46 L73.1,127.38 L70.83,121.4 L68.36,115.53 L65.7,109.76 L62.84,104.09 L59.78,98.53 L56.52,93.07 L53.07,87.72 L49.42,82.47 L45.58,77.32 L41.54,72.27 L37.3,67.33"/>
<path d="M80.87,145.27 L80.42,138.32 L79.57,131.59 L78.32,125.08 L76.68,118.78 L74.63,112.7 L72.2,106.84 L69.36,101.2 L66.13,95.78 L62.5,90.57 L58.47,85.58 L54.05,80.81 L49.23,76.26 L44.01,71.92 L38.39,67.8"/>
<path d="M80.09,143.38 L79.68,136.67 L78.89,130.16 L77.73,123.85 L76.19,117.73 L74.27,111.82 L71.97,106.11 L69.3,100.59 L66.25,95.27 L62.82,90.16 L59.01,85.24 L54.83,80.52 L50.27,76.01 L45.33,71.69 L40.01,67.57"/>
<path d="M80.3,144.54 L79.39,137.99 L78.17,131.6 L76.63,125.39 L74.78,119.35 L72.62,113.48 L70.14,107.77 L67.35,102.24 L64.24,96.88 L60.83,91.68 L57.09,86.66 L53.05,81.8 L48.69,77.12 L44.01,72.61 L39.02,68.26"/>
<path d="M78.54,145.35 L78.21,138.31 L77.48,131.49 L76.32,124.89 L74.76,118.52 L72.78,112.36 L70.39,106.43 L67.58,100.72 L64.37,95.24 L60.74,89.97 L56.69,84.93 L52.24,80.11 L47.37,75.51 L42.09,71.14 L36.39,66.98"/>
<path d="M82.67,145.34 L81.11,138.83 L79.3,132.47 L77.22,126.27 L74.89,120.21 L72.3,114.3 L69.45,108.55 L66.34,102.94 L62.98,97.49 L59.36,92.19 L55.48,87.03 L51.34,82.03 L46.95,77.18 L42.29,72.48 L37.38,67.93"/>
<path d="M78.95,146.4 L77.88,139.85 L76.54,133.44 L74.94,127.15 L73.07,121 L70.94,114.98 L68.54,109.09 L65.87,103.33 L62.94,97.7 L59.74,92.2 L56.28,86.83 L52.55,81.59 L48.55,76.48 L44.29,71.5 L39.77,66.66"/>
<path d="M80.23,139.4 L78.28,133.75 L76.19,128.16 L73.97,122.65 L71.61,117.21 L69.13,111.85 L66.5,106.56 L63.75,101.34 L60.86,96.19 L57.83,91.12 L54.67,86.12 L51.38,81.19 L47.96,76.34 L44.4,71.55 L40.71,66.84"/>
<path d="M83.12,141.05 L81.54,134.71 L79.7,128.52 L77.6,122.49 L75.24,116.63 L72.62,110.92 L69.74,105.38 L66.6,99.99 L63.2,94.77 L59.54,89.71 L55.62,84.8 L51.44,80.06 L47,75.48 L42.3,71.06 L37.34,66.79"/>
<path d="M80.22,141.61 L78.4,135.96 L76.42,130.39 L74.3,124.9 L72.04,119.49 L69.63,114.16 L67.07,108.91 L64.36,103.74 L61.51,98.65 L58.51,93.64 L55.37,88.71 L52.07,83.86 L48.63,79.08 L45.05,74.39 L41.31,69.77"/>
<path d="M82.06,141.23 L85.78,136.56 L89.38,131.82 L92.86,127.01 L96.23,122.13 L99.47,117.18 L102.6,112.17 L105.62,107.09 L108.51,101.94 L111.29,96.72 L113.95,91.43 L116.49,86.08 L118.92,80.66 L121.23,75.17 L123.42,69.62"/>
<path d="M81.01,143.9 L84.86,138.98 L88.57,133.99 L92.15,128.92 L95.6,123.78 L98.92,118.57 L102.1,113.29 L105.16,107.93 L108.08,102.5 L110.87,97 L113.52,91.42 L116.05,85.77 L118.44,80.05 L120.7,74.25 L122.83,68.38"/>
<path d="M80.16,139 L83.07,134.01 L85.97,129.02 L88.84,124.02 L91.7,119 L94.54,113.98 L97.36,108.94 L100.16,103.9 L102.95,98.84 L105.71,93.78 L108.46,88.71 L111.19,83.62 L113.91,78.53 L116.6,73.43 L119.28,68.31"/>
<path d="M81.06,143.09 L84.38,138.2 L87.62,133.27 L90.77,128.29 L93.82,123.27 L96.79,118.19 L99.67,113.07 L102.46,107.91 L105.17,102.69 L107.78,97.43 L110.3,92.12 L112.74,86.77 L115.08,81.36 L117.34,75.91 L119.51,70.42"/>
<path d="M80.82,147.53 L82.94,141.28 L85.2,135.12 L87.6,129.02 L90.14,123.01 L92.83,117.07 L95.67,111.2 L98.64,105.41 L101.76,99.7 L105.02,94.06 L108.43,88.5 L111.98,83.01 L115.67,77.6 L119.51,72.27 L123.48,67.01"/>
<path d="M80.77,145.72 L83.65,140.14 L86.54,134.56 L89.43,128.99 L92.34,123.42 L95.25,117.85 L98.17,112.29 L101.09,106.73 L104.03,101.18 L106.97,95.63 L109.92,90.09 L112.88,84.54 L115.84,79.01 L118.81,73.47 L121.79,67.95"/>
<path d="M80.65,143.86 L84.2,138.87 L87.62,133.82 L90.91,128.71 L94.07,123.52 L97.1,118.28 L100,112.97 L102.77,107.59 L105.42,102.15 L107.93,96.65 L110.31,91.08 L112.56,85.44 L114.68,79.74 L116.67,73.97 L118.54,68.14"/>
<path d="M82.07,147.9 L85.34,142.41 L88.53,136.88 L91.63,131.31 L94.66,125.7 L97.6,120.05 L100.47,114.36 L103.25,108.64 L105.96,102.87 L108.58,97.07 L111.13,91.23 L113.59,85.36 L115.98,79.44 L118.28,73.49 L120.5,67.49"/>
<path d="M79.72,144.88 L82.03,139.12 L84.41,133.39 L86.85,127.7 L89.35,122.03 L91.92,116.4 L94.55,110.79 L97.25,105.22 L100.01,99.68 L102.83,94.17 L105.72,88.7 L108.68,83.25 L111.69,77.84 L114.77,72.45 L117.92,67.1"/>
<path d="M80.02,145.53 L82.42,139.57 L84.93,133.67 L87.53,127.83 L90.22,122.03 L93.02,116.29 L95.92,110.61 L98.92,104.97 L102.01,99.39 L105.2,93.87 L108.5,88.4 L111.89,82.98 L115.38,77.62 L118.97,72.31 L122.66,67.05"/>
<path d="M82.6,144.96 L85.99,139.87 L89.3,134.73 L92.51,129.54 L95.64,124.31 L98.68,119.03 L101.63,113.7 L104.49,108.33 L107.27,102.91 L109.95,97.45 L112.55,91.94 L115.05,86.38 L117.47,80.78 L119.8,75.13 L122.04,69.43"/>
<path d="M79.85,144.34 L82.61,138.72 L85.41,133.13 L88.24,127.55 L91.11,121.99 L94.01,116.45 L96.95,110.93 L99.93,105.43 L102.94,99.95 L105.98,94.48 L109.06,89.04 L112.18,83.62 L115.33,78.21 L118.52,72.83 L121.74,67.46"/>
<path d="M78.54,141.28 L82.1,136.43 L85.53,131.51 L88.83,126.53 L92,121.47 L95.04,116.36 L97.95,111.17 L100.74,105.92 L103.39,100.6 L105.92,95.22 L108.32,89.77 L110.59,84.25 L112.73,78.67 L114.74,73.02 L116.63,67.31"/>
<path d="M78.2,141.47 L81.11,136.05 L84.04,130.65 L87.01,125.27 L90,119.91 L93.02,114.56 L96.07,109.22 L99.14,103.9 L102.24,98.6 L105.37,93.31 L108.52,88.04 L111.7,82.78 L114.91,77.54 L118.15,72.32 L121.41,67.11"/>
<path d="M78.97,145.6 L81.64,139.87 L84.37,134.18 L87.16,128.52 L90.02,122.89 L92.93,117.3 L95.91,111.75 L98.94,106.22 L102.04,100.73 L105.19,95.28 L108.41,89.85 L111.69,84.47 L115.02,79.11 L118.42,73.79 L121.88,68.5"/>
<path d="M80.71,144.9 L84.24,139.68 L87.69,134.41 L91.04,129.09 L94.31,123.72 L97.48,118.3 L100.57,112.84 L103.57,107.33 L106.48,101.77 L109.3,96.17 L112.03,90.52 L114.67,84.82 L117.22,79.07 L119.68,73.27 L122.06,67.43"/>
<path d="M79.95,142 L82.34,136.44 L84.79,130.92 L87.31,125.42 L89.89,119.96 L92.54,114.54 L95.25,109.15 L98.03,103.79 L100.88,98.47 L103.78,93.18 L106.76,87.93 L109.8,82.71 L112.9,77.53 L116.07,72.38 L119.31,67.26"/>
<path d="M83.31,139.09 L86.73,134.37 L90.04,129.58 L93.22,124.73 L96.27,119.82 L99.21,114.85 L102.02,109.81 L104.71,104.71 L107.28,99.55 L109.72,94.32 L112.04,89.03 L114.24,83.68 L116.32,78.27 L118.27,72.79 L120.1,67.25"/>
<path d="M82.37,145.01 L84.78,139.28 L87.27,133.58 L89.83,127.92 L92.46,122.3 L95.17,116.72 L97.96,111.18 L100.82,105.68 L103.75,100.21 L106.76,94.79 L109.84,89.41 L113,84.06 L116.24,78.76 L119.54,73.5 L122.93,68.27"/>
<path d="M79.13,146.34 L82.8,141.26 L86.35,136.12 L89.79,130.92 L93.1,125.65 L96.3,120.32 L99.37,114.93 L102.33,109.47 L105.17,103.96 L107.89,98.37 L110.49,92.73 L112.97,87.02 L115.33,81.25 L117.57,75.42 L119.7,69.53"/>
<path d="M80.73,142.73 L83.79,137.52 L86.8,132.29 L89.75,127.02 L92.66,121.74 L95.52,116.42 L98.32,111.08 L101.07,105.72 L103.77,100.32 L106.42,94.9 L109.02,89.46 L111.57,83.99 L114.06,78.49 L116.51,72.97 L118.9,67.42"/>
<path d="M80.86,141.74 L83.42,136.33 L86.02,130.95 L88.65,125.59 L91.32,120.24 L94.02,114.91 L96.76,109.61 L99.53,104.32 L102.35,99.05 L105.19,93.8 L108.08,88.57 L111,83.35 L113.96,78.16 L116.95,72.99 L119.98,67.83"/>
<path d="M79.8,145.09 L83.33,139.97 L86.72,134.77 L90,129.52 L93.14,124.21 L96.15,118.83 L99.04,113.39 L101.79,107.88 L104.42,102.32 L106.92,96.69 L109.29,91 L111.53,85.24 L113.64,79.43 L115.63,73.55 L117.48,67.61"/>
<path d="M81.18,144.68 L84.23,139.35 L87.24,134 L90.19,128.62 L93.1,123.22 L95.95,117.79 L98.76,112.34 L101.52,106.87 L104.24,101.37 L106.9,95.85 L109.52,90.3 L112.09,84.73 L114.61,79.14 L117.08,73.52 L119.5,67.88"/>
<path d="M81.43,143.83 L83.46,138.08 L85.6,132.4 L87.87,126.79 L90.27,121.24 L92.78,115.75 L95.42,110.33 L98.18,104.97 L101.06,99.68 L104.07,94.45 L107.2,89.29 L110.45,84.2 L113.82,79.16 L117.31,74.2 L120.93,69.29"/>
<path d="M80.3,147.06 L82.14,141.04 L84.11,135.08 L86.21,129.19 L88.44,123.36 L90.81,117.59 L93.31,111.89 L95.93,106.25 L98.69,100.67 L101.59,95.16 L104.61,89.71 L107.76,84.32 L111.05,78.99 L114.46,73.73 L118.01,68.53"/>
<path d="M83.57,145.49 L86.49,140.03 L89.39,134.55 L92.29,129.08 L95.17,123.59 L98.05,118.11 L100.91,112.61 L103.77,107.11 L106.61,101.61 L109.45,96.1 L112.28,90.59 L115.09,85.07 L117.9,79.55 L120.69,74.02 L123.48,68.48"/>
<path d="M81.44,140.52 L85.16,135.76 L88.78,130.95 L92.29,126.08 L95.7,121.14 L99.01,116.14 L102.22,111.09 L105.32,105.97 L108.32,100.79 L111.21,95.55 L114.01,90.24 L116.7,84.88 L119.28,79.46 L121.76,73.97 L124.14,68.42"/>
<path d="M80.8,144.01 L83.43,138.35 L86.1,132.72 L88.84,127.12 L91.63,121.56 L94.47,116.02 L97.37,110.51 L100.32,105.03 L103.33,99.59 L106.4,94.17 L109.52,88.78 L112.69,83.43 L115.92,78.1 L119.2,72.8 L122.54,67.54"/>
<path d="M81.64,145.19 L84.02,139.42 L86.48,133.69 L89.03,128 L91.66,122.35 L94.37,116.75 L97.16,111.19 L100.03,105.67 L102.98,100.2 L106.02,94.77 L109.14,89.38 L112.34,84.04 L115.62,78.74 L118.98,73.49 L122.43,68.28"/>
<path d="M80.02,143.98 C83.46,142.03 93.58,138.28 100.65,132.27 C107.71,126.26 117.71,114.78 122.42,107.91 C127.13,101.04 129.37,97.6 128.9,91.07 C128.44,84.54 121.17,72.46 119.62,68.74"/>
<path d="M83.56,144.91 C87.95,144.05 103.91,146.33 109.88,139.78 C115.85,133.22 116.65,113.7 119.39,105.6 C122.12,97.49 125.84,97.32 126.3,91.13 C126.77,84.94 122.86,72.23 122.17,68.45"/>
<path d="M82.24,146.86 C85.69,145.14 96.48,142.2 102.94,136.54 C109.4,130.87 117.31,121.28 120.98,112.86 C124.66,104.43 124.87,94.01 125,85.98 C125.12,77.95 122.3,68.21 121.76,64.66"/>
<path d="M82.03,145.87 C85.14,143.89 94.33,139.94 100.65,134.01 C106.97,128.09 115.53,118.52 119.97,110.32 C124.4,102.11 126.59,92.15 127.25,84.8 C127.91,77.46 124.49,69.34 123.94,66.25"/>
<path d="M81.46,145.09 C86.46,145.17 106.32,148.74 111.45,145.57 C116.58,142.41 110.36,133.99 112.24,126.11 C114.12,118.23 120.22,107.94 122.72,98.27 C125.21,88.61 126.46,73.14 127.21,68.12"/>
<path d="M84.61,144.66 C88.04,144.27 99.84,143.87 105.19,142.3 C110.53,140.73 113.76,141.76 116.67,135.24 C119.57,128.72 121.48,114.5 122.63,103.15 C123.79,91.81 123.46,73.18 123.62,67.18"/>
<path d="M80.98,144.28 C86.48,143.77 108.1,142.77 114,141.19 C119.9,139.61 114.24,140.69 116.39,134.8 C118.54,128.9 126.31,116.82 126.89,105.83 C127.47,94.83 121.04,74.98 119.88,68.81"/>
<path d="M80.38,145.78 C85.44,145.44 105.39,147.47 110.72,143.74 C116.06,140.01 110.11,130.28 112.38,123.42 C114.65,116.56 123.08,111.93 124.37,102.6 C125.66,93.27 120.83,73.3 120.12,67.44"/>
<path d="M81.44,144.5 C86.18,143.3 103.23,143.99 109.88,137.34 C116.53,130.7 118.37,112.33 121.34,104.62 C124.32,96.9 127.39,96.73 127.73,91.07 C128.07,85.41 124.11,74.05 123.39,70.64"/>
<path d="M81.67,145.15 C83.66,143.5 89.25,140.8 93.58,135.28 C97.9,129.77 101.99,118.57 107.63,112.06 C113.27,105.55 125.09,104.18 127.41,96.24 C129.73,88.3 122.54,69.72 121.56,64.42"/>
<path d="M82.87,143.62 C85.74,143.22 95.08,142.98 100.08,141.26 C105.08,139.54 108.8,139.69 112.85,133.29 C116.91,126.89 122.61,114 124.38,102.87 C126.15,91.74 123.62,72.57 123.47,66.51"/>
<path d="M84.93,143.92 C88.5,144.2 101.72,148.14 106.34,145.63 C110.96,143.12 109.24,135.2 112.65,128.87 C116.07,122.53 125.22,117.48 126.83,107.6 C128.44,97.73 123.06,75.96 122.31,69.63"/>
<path d="M82.34,145.74 C85.81,144.26 96.35,143.64 103.15,136.86 C109.94,130.08 119.02,112.93 123.09,105.04 C127.16,97.14 126.63,96 127.56,89.51 C128.49,83.02 128.47,69.99 128.66,66.09"/>
<path d="M84.22,143.64 C86.64,142.42 94.9,141.2 98.77,136.29 C102.65,131.38 103.19,120.7 107.46,114.18 C111.74,107.66 121.71,105.24 124.4,97.18 C127.09,89.12 123.73,71.04 123.59,65.82"/>
<path d="M80.24,136.68 C82.28,132.08 89.42,118.43 92.47,109.05 C95.52,99.67 96,84.95 98.56,80.41 C101.13,75.87 103.52,83.73 107.87,81.82 C112.23,79.9 121.9,71.06 124.71,68.91"/>
<path d="M83,137.82 C85.08,132.73 94.29,116.22 95.5,107.29 C96.72,98.35 88.18,88.94 90.29,84.2 C92.4,79.46 103.23,81.84 108.16,78.83 C113.08,75.83 117.88,68.28 119.82,66.17"/>
<path d="M80.6,136.16 C83.2,130.94 94.74,112.9 96.19,104.81 C97.64,96.72 86.84,91.92 89.29,87.64 C91.75,83.35 105.47,82.06 110.92,79.12 C116.37,76.19 120.13,71.56 121.97,70.05"/>
<path d="M81.82,136.65 C83.9,130.15 92.58,106.24 94.31,97.65 C96.03,89.06 91.14,87.92 92.19,85.1 C93.23,82.28 95.3,83.31 100.57,80.73 C105.84,78.15 119.95,71.46 123.83,69.61"/>
<path d="M81.41,133.64 C82.94,128.88 88.9,112.43 90.54,105.07 C92.19,97.72 89.4,93.23 91.29,89.51 C93.18,85.78 96.41,86.31 101.91,82.71 C107.4,79.12 120.52,70.39 124.25,67.92"/>
<path d="M81.52,134.8 C84.57,129.81 96.84,112.46 99.82,104.85 C102.8,97.25 98.98,92.95 99.39,89.16 C99.81,85.37 98.6,85.67 102.31,82.1 C106.02,78.52 118.44,70.09 121.67,67.69"/>
</g>
<line x1="15.3" y1="47" x2="15.3" y2="192.2" stroke="#555" stroke-width="1.1" />
<line x1="15.3" y1="191.8" x2="154" y2="191.8" stroke="#777" stroke-width="1.3" />
<line x1="80.7" y1="47" x2="80.7" y2="167.3" stroke="#666" stroke-width="1" />
<line x1="80.7" y1="179.7" x2="80.7" y2="191.8" stroke="#666" stroke-width="1" />
<text x="46.5" y="57.3" font-size="7.6" text-anchor="middle" fill="#111" textLength="35.5" lengthAdjust="spacingAndGlyphs" >Left Target</text>
<text x="120.2" y="57.3" font-size="7.6" text-anchor="middle" fill="#111" textLength="40.5" lengthAdjust="spacingAndGlyphs" >Right Target</text>
<text x="80.6" y="176.1" font-size="7.6" text-anchor="middle" fill="#111" textLength="15.2" lengthAdjust="spacingAndGlyphs" >Start</text>
<text x="80.7" y="202.2" font-size="8.8" text-anchor="middle" fill="#222" textLength="73" lengthAdjust="spacingAndGlyphs" >Horizontal Position</text>
<text x="0" y="0" font-size="8.8" text-anchor="middle" fill="#222" textLength="61" lengthAdjust="spacingAndGlyphs" transform="translate(10.5,121.5) rotate(-90)">Vertical Position</text>
<g fill="none" stroke="#3fb1a5" stroke-width="0.8" stroke-linejoin="round">
<path d="M258.12,143.02 C258.7,141.54 257.06,139.94 261.59,134.14 C266.12,128.33 280.46,115.32 285.29,108.22 C290.12,101.11 295.02,95.62 290.56,91.5 C286.1,87.38 271.12,85.88 258.52,83.47 C245.93,81.06 222.25,78.11 214.99,77.04" stroke-opacity="0.26"/>
<path d="M259.93,144.29 C259.99,143.14 256.74,142.06 260.29,137.36 C263.84,132.67 276.39,124.18 281.23,116.12 C286.08,108.05 294.61,94.59 289.36,88.99 C284.12,83.38 262.2,84.14 249.76,82.49 C237.32,80.85 220.57,79.68 214.73,79.12" stroke-opacity="0.26"/>
<path d="M257.14,143.1 C258.63,140.76 261.11,134.34 266.06,129.05 C271.02,123.75 282.46,117.98 286.87,111.34 C291.28,104.69 298.11,92.75 292.52,89.17 C286.93,85.59 266.19,91.52 253.35,89.85 C240.52,88.17 221.8,80.91 215.49,79.12" stroke-opacity="0.26"/>
<path d="M258.13,144.44 C257.28,141.78 257.03,135.13 253.05,128.48 C249.07,121.84 239.41,110.68 234.24,104.57 C229.08,98.45 217.58,95.1 222.05,91.78 C226.52,88.45 248.23,87.74 261.06,84.62 C273.9,81.49 292.73,74.96 299.06,73.03" stroke-opacity="0.26"/>
<path d="M259.22,145.63 C258.35,143.39 256.79,139.64 254,132.18 C251.2,124.71 247.42,108.46 242.45,100.86 C237.47,93.26 223.22,90.91 224.16,86.58 C225.1,82.24 235.06,76.27 248.09,74.87 C261.13,73.47 293.33,77.61 302.37,78.16" stroke-opacity="0.26"/>
<path d="M257.49,143.56 C258.14,141.19 258.39,134.11 261.41,129.34 C264.43,124.56 270.96,123.44 275.59,114.91 C280.23,106.39 290.78,83.13 289.22,78.2 C287.66,73.27 278.25,86.01 266.24,85.32 C254.22,84.63 225.32,75.96 217.14,74.08" stroke-opacity="0.26"/>
<path d="M260.81,141.47 C259.97,139.67 257.79,135.62 255.78,130.64 C253.78,125.66 254.24,119.57 248.79,111.61 C243.35,103.65 220.84,87.99 223.13,82.9 C225.41,77.82 248.49,80.67 262.49,81.1 C276.5,81.53 299.73,84.74 307.18,85.47" stroke-opacity="0.26"/>
<path d="M259.02,144.05 C258.94,141.42 260.74,135.12 258.51,128.25 C256.28,121.39 252.37,111 245.66,102.87 C238.95,94.74 215.56,82.53 218.24,79.47 C220.91,76.41 248.48,84.42 261.7,84.51 C274.92,84.6 291.59,80.77 297.56,80.02" stroke-opacity="0.26"/>
<path d="M259.36,142.86 C259.71,140.88 259.72,135.48 261.48,131 C263.23,126.53 263.79,123.17 269.87,116.01 C275.95,108.84 301.75,92.77 297.96,88.02 C294.17,83.27 261.26,88.7 247.15,87.51 C233.04,86.33 218.95,82.01 213.31,80.91" stroke-opacity="0.26"/>
<path d="M261.29,150.02 C261.25,147.42 259.44,140.1 261.09,134.44 C262.75,128.78 264.74,123.25 271.22,116.04 C277.7,108.84 302.94,98.07 299.95,91.2 C296.97,84.33 267.52,75.95 253.32,74.84 C239.12,73.73 221.16,82.93 214.73,84.55" stroke-opacity="0.26"/>
<path d="M258.03,148.41 C259.38,145.15 262.8,136.41 266.15,128.85 C269.5,121.3 272.55,109.57 278.13,103.06 C283.72,96.54 304.04,94.2 299.67,89.78 C295.29,85.37 266.63,78.8 251.87,76.55 C237.11,74.29 217.9,76.31 211.11,76.26" stroke-opacity="0.26"/>
<path d="M258.47,145.3 C259.77,143.47 262.43,139.86 266.26,134.31 C270.09,128.75 275.73,120.26 281.47,111.97 C287.21,103.69 303.09,89.04 300.71,84.57 C298.32,80.1 281.96,85.85 267.15,85.16 C252.34,84.47 221.07,81.22 211.85,80.43" stroke-opacity="0.26"/>
<path d="M257.84,143.27 C257.75,141.76 259.01,138.7 257.3,134.23 C255.6,129.75 252.32,125.7 247.6,116.39 C242.88,107.09 228.65,82.97 228.98,78.38 C229.3,73.79 237.81,89.36 249.56,88.86 C261.31,88.37 291.16,77.65 299.48,75.41" stroke-opacity="0.26"/>
<path d="M259.8,144.21 C258.81,141.58 255.86,135.65 253.85,128.43 C251.85,121.2 253.59,107.47 247.78,100.84 C241.97,94.21 218.34,90.59 219.01,88.66 C219.68,86.74 237.96,90 251.78,89.27 C265.61,88.54 293.58,85.12 301.94,84.29" stroke-opacity="0.26"/>
<path d="M259.8,144.85 C259.81,142.1 255.82,133.38 259.9,128.34 C263.97,123.31 278.26,121.08 284.26,114.62 C290.26,108.15 299.56,95.55 295.88,89.55 C292.19,83.55 274.52,81.08 262.16,78.6 C249.79,76.12 228.44,75.32 221.7,74.66" stroke-opacity="0.26"/>
<path d="M258.63,145.74 C258.34,143.37 261.31,138.99 256.91,131.51 C252.52,124.03 238.35,107.67 232.26,100.87 C226.17,94.08 214.83,93.62 220.36,90.74 C225.9,87.87 251.99,85.77 265.46,83.63 C278.93,81.49 295.23,78.85 301.19,77.89" stroke-opacity="0.26"/>
<path d="M259.09,143.51 C258.39,141.09 257.94,136.09 254.85,128.98 C251.76,121.88 245.86,107.7 240.56,100.87 C235.26,94.04 218.69,90.95 223.07,88 C227.46,85.06 254.26,84.46 266.87,83.19 C279.48,81.93 293.42,80.88 298.73,80.41" stroke-opacity="0.26"/>
<path d="M258.4,147.24 C258.43,144.61 260.42,137.27 258.57,131.48 C256.71,125.69 253.8,119.17 247.28,112.51 C240.76,105.86 217.12,95.41 219.45,91.54 C221.77,87.67 247.51,90.77 261.22,89.32 C274.93,87.86 294.95,83.91 301.7,82.83" stroke-opacity="0.26"/>
<path d="M258.78,145.36 C257.88,143.3 255.36,138.63 253.4,132.98 C251.44,127.33 250.94,118.78 247.02,111.46 C243.1,104.13 227.08,93.18 229.87,89.03 C232.65,84.89 251.52,88.26 263.73,86.59 C275.95,84.93 296.59,80.3 303.16,79.05" stroke-opacity="0.26"/>
<path d="M261.85,142.17 C262.37,140.51 261.83,138.13 264.96,132.22 C268.09,126.31 276.25,114.73 280.63,106.7 C285.01,98.66 294.67,88.99 291.24,83.99 C287.82,79 273.58,76.78 260.08,76.74 C246.58,76.69 218.54,82.56 210.23,83.72" stroke-opacity="0.26"/>
<path d="M260.41,145.92 C261.09,143.94 262.98,139.96 264.51,134.05 C266.05,128.14 264.64,117.79 269.61,110.47 C274.57,103.15 296.27,94.75 294.3,90.15 C292.34,85.55 270.39,84.41 257.81,82.86 C245.22,81.31 225.3,81.2 218.8,80.87" stroke-opacity="0.26"/>
<path d="M258.32,143.5 C259.05,142.4 260.2,143.53 262.7,136.85 C265.19,130.18 268.53,111.62 273.28,103.45 C278.04,95.28 292.23,92.34 291.22,87.84 C290.22,83.35 278.96,78.25 267.25,76.47 C255.54,74.7 228.68,77.09 220.97,77.21" stroke-opacity="0.26"/>
<path d="M257.89,142.88 C258.39,142 258.26,141.84 260.89,137.56 C263.52,133.28 266.98,126.73 273.66,117.19 C280.33,107.65 302.74,86.98 300.93,80.3 C299.12,73.63 276.1,77.92 262.79,77.13 C249.47,76.33 228,75.79 221.04,75.52" stroke-opacity="0.26"/>
<path d="M258.83,141.87 C259.12,140.63 258.55,140.74 260.57,134.38 C262.58,128.02 265.61,113.03 270.92,103.72 C276.23,94.4 294.83,81.32 292.44,78.48 C290.05,75.63 269.65,86.15 256.58,86.66 C243.5,87.16 221.08,82.37 213.99,81.51" stroke-opacity="0.26"/>
<path d="M258.19,144.25 C259.13,142.22 259.81,136.7 263.83,132.05 C267.85,127.4 277.47,124.01 282.34,116.34 C287.2,108.68 295.91,91.97 293.02,86.04 C290.13,80.1 277.14,80.86 264.98,80.74 C252.81,80.61 227.52,84.52 220.03,85.28" stroke-opacity="0.26"/>
<path d="M258.08,141.41 C257.63,139.7 258.77,137.74 255.37,131.13 C251.97,124.52 242.73,108.79 237.69,101.76 C232.65,94.73 220.72,91.9 225.13,88.95 C229.53,86.01 251.93,85.53 264.12,84.07 C276.3,82.62 292.56,80.85 298.25,80.2" stroke-opacity="0.26"/>
<path d="M261.94,144.49 C262.82,142.28 264.3,135.09 267.22,131.26 C270.14,127.42 282.13,128.64 279.44,121.47 C276.76,114.3 261.2,93.39 251.13,88.23 C241.06,83.08 224.37,90.15 219.02,90.53" stroke-opacity="0.17"/>
<path d="M260.82,144.59 C259.87,142.65 259.1,138.3 255.07,132.95 C251.04,127.59 235.6,117.85 236.66,112.46 C237.72,107.08 251.62,104.8 261.43,100.64 C271.23,96.48 289.81,89.67 295.49,87.48" stroke-opacity="0.17"/>
<path d="M257.19,141.12 C256.12,138.89 254.2,133.76 250.74,127.74 C247.28,121.73 232.34,110.23 236.46,105.04 C240.57,99.86 265.14,101.15 275.42,96.63 C285.71,92.12 294.36,81.07 298.15,77.96" stroke-opacity="0.17"/>
<path d="M258.26,142.84 C259.48,139.51 265.77,126.34 265.58,122.86 C265.39,119.38 260.72,125.31 257.11,121.97 C253.49,118.63 249.76,110.22 243.91,102.85 C238.07,95.48 225.68,81.93 222.04,77.75" stroke-opacity="0.17"/>
<path d="M258.81,139.26 C260.23,136.9 264.22,130.04 267.32,125.06 C270.43,120.09 279.68,115.11 277.44,109.41 C275.21,103.7 263.54,94.25 253.91,90.84 C244.28,87.44 225.39,89.27 219.68,88.95" stroke-opacity="0.17"/>
<path d="M257.11,144.49 C256.64,142.99 254.95,140.35 254.29,135.49 C253.62,130.63 249.05,120.25 253.11,115.33 C257.17,110.41 271.73,111.73 278.65,105.96 C285.57,100.19 291.96,84.92 294.62,80.71" stroke-opacity="0.17"/>
<path d="M259.31,141.79 C257.36,139.03 250.27,129.44 247.6,125.23 C244.92,121.01 237.45,120.21 243.28,116.5 C249.11,112.78 274.01,107.54 282.59,102.93 C291.17,98.33 292.75,91.23 294.78,88.89" stroke-opacity="0.17"/>
<path d="M257.63,146.27 C258.83,143.36 262.37,136.16 264.84,128.79 C267.31,121.42 277.02,108.29 272.45,102.05 C267.89,95.81 245.32,94.68 237.47,91.36 C229.62,88.05 227.38,83.69 225.36,82.16" stroke-opacity="0.17"/>
<path d="M260.53,140.16 C258.38,137.46 251.06,128.13 247.59,123.97 C244.12,119.8 237.76,121.15 239.72,115.2 C241.68,109.24 249.24,93.04 259.36,88.25 C269.48,83.47 293.58,86.79 300.42,86.5" stroke-opacity="0.17"/>
<path d="M257.47,142.35 C259.76,139.39 269.55,128.52 271.25,124.6 C272.95,120.68 270.53,123.46 267.65,118.84 C264.78,114.21 261.51,102.37 254,96.85 C246.48,91.34 227.82,87.6 222.59,85.75" stroke-opacity="0.17"/>
<path d="M257.44,140.31 C255.79,139.21 247.54,137.69 247.54,133.74 C247.55,129.8 253.44,121.53 257.47,116.63 C261.51,111.72 265.61,108.74 271.74,104.32 C277.87,99.9 290.51,92.49 294.26,90.12" stroke-opacity="0.17"/>
<path d="M258.9,145.45 C258.3,142.7 254.92,134.61 255.33,128.9 C255.74,123.2 260.17,116.23 261.36,111.21 C262.55,106.19 256.86,103.24 262.47,98.81 C268.07,94.38 289.56,87 294.98,84.63" stroke-opacity="0.17"/>
<path d="M259.7,145.49 C257.86,142.73 249.49,134.68 248.65,128.97 C247.81,123.25 251.26,114.34 254.69,111.18 C258.12,108.02 262.15,115.38 269.22,110 C276.29,104.62 292.46,84.07 297.11,78.89" stroke-opacity="0.17"/>
<path d="M258.76,143.64 C260.36,141.62 264.6,137.51 268.32,131.56 C272.04,125.61 286.56,113.32 281.08,107.93 C275.6,102.54 245.09,102.16 235.44,99.23 C225.79,96.31 225.23,91.84 223.18,90.36" stroke-opacity="0.17"/>
<path d="M259.35,146.02 C258.71,142.24 257.95,129.63 255.48,123.32 C253.01,117.02 240.85,112.05 244.55,108.19 C248.25,104.34 268.45,104.8 277.68,100.19 C286.92,95.58 296.24,83.82 299.95,80.55" stroke-opacity="0.17"/>
<path d="M257.32,145.19 C259.58,142.01 267.44,132.02 270.92,126.1 C274.4,120.18 282.18,115.04 278.18,109.69 C274.17,104.34 256.12,96.99 246.91,93.98 C237.7,90.96 226.92,92 222.92,91.6" stroke-opacity="0.17"/>
<path d="M259.35,142.27 C260.26,139.59 262.79,130.69 264.81,126.19 C266.82,121.68 275.53,121.45 271.42,115.24 C267.32,109.02 248.69,93.06 240.18,88.88 C231.66,84.7 223.64,89.95 220.33,90.17" stroke-opacity="0.17"/>
<path d="M258.42,144.57 C258.09,142.73 257.9,137.87 256.44,133.51 C254.99,129.14 249.03,124.13 249.7,118.38 C250.37,112.64 252.81,105.08 260.44,99.02 C268.08,92.96 289.68,84.85 295.52,82.02" stroke-opacity="0.17"/>
<path d="M257.38,141.79 C256.12,140.08 249.9,135.83 249.84,131.53 C249.79,127.24 253.69,120.47 257.05,116.01 C260.41,111.55 264.46,110.96 269.99,104.78 C275.52,98.59 286.85,83.21 290.22,78.9" stroke-opacity="0.17"/>
<path d="M258.39,144.44 C256.3,140.73 249.13,129.04 245.83,122.19 C242.53,115.34 235.15,106.42 238.59,103.33 C242.02,100.23 256.3,107.68 266.42,103.62 C276.55,99.56 293.86,83.07 299.35,78.96" stroke-opacity="0.17"/>
<path d="M258.34,145.93 C256.83,144.12 248.78,140.46 249.3,135.07 C249.82,129.69 259.7,121.03 261.47,113.62 C263.25,106.21 253.74,95.35 259.95,90.61 C266.15,85.88 292.26,86.11 298.72,85.21" stroke-opacity="0.17"/>
<path d="M258.76,144.11 C259.91,141.81 261.9,133.72 265.65,130.29 C269.39,126.86 284.27,129.07 281.26,123.54 C278.25,118 256.5,103.28 247.59,97.07 C238.68,90.87 231.08,88.11 227.78,86.31" stroke-opacity="0.17"/>
<path d="M260.67,142.29 C259.2,138.93 254.61,125.23 251.88,122.13 C249.14,119.03 239.64,128.57 244.26,123.68 C248.88,118.79 271.9,99.49 279.6,92.8 C287.3,86.11 288.65,85.1 290.46,83.56" stroke-opacity="0.17"/>
<path d="M258.79,142.54 C260.62,139.55 270.2,128.62 269.8,124.62 C269.41,120.63 261.06,121.54 256.4,118.58 C251.75,115.61 247.9,113.69 241.87,106.82 C235.85,99.95 223.85,82.26 220.24,77.35" stroke-opacity="0.17"/>
<path d="M255.62,145.14 C257.03,143.53 260.81,142.98 264.05,135.5 C267.29,128.02 275.98,105.8 275.08,100.27 C274.18,94.74 267.96,106.15 258.65,102.32 C249.33,98.48 225.77,81.45 219.19,77.27" stroke-opacity="0.17"/>
<path d="M258.22,146.5 C260.6,144.37 270.19,140.17 272.49,133.69 C274.8,127.2 278.09,112.54 272.05,107.59 C266.01,102.64 244.34,108.83 236.23,104.01 C228.12,99.19 225.51,82.89 223.36,78.66" stroke-opacity="0.17"/>
<path d="M257.59,146.18 C256.23,143.12 250.34,132.4 249.44,127.85 C248.55,123.3 246.83,122.63 252.2,118.87 C257.57,115.1 274.41,111.63 281.68,105.26 C288.95,98.9 293.45,84.78 295.8,80.68" stroke-opacity="0.17"/>
<path d="M257.43,141.99 C255.76,140.06 250.51,134.49 247.38,130.4 C244.25,126.3 236.65,123.93 238.65,117.42 C240.65,110.9 249.32,96.67 259.37,91.32 C269.43,85.98 292.39,86.35 298.99,85.35" stroke-opacity="0.17"/>
<path d="M257.37,146.13 C256.11,144.2 252.61,141.1 249.78,134.55 C246.95,127.99 238.85,113.59 240.39,106.8 C241.93,100.01 250.09,97.36 259.04,93.79 C267.99,90.22 288.23,86.79 294.07,85.39" stroke-opacity="0.17"/>
<path d="M258.8,145.07 C256.72,143.54 246.3,139.51 246.31,135.9 C246.33,132.29 253.58,129.38 258.88,123.41 C264.19,117.43 271.56,106.62 278.13,100.05 C284.71,93.48 294.96,86.68 298.32,84" stroke-opacity="0.17"/>
</g>
<line x1="193.4" y1="47.5" x2="193.4" y2="192.2" stroke="#555" stroke-width="1.1" />
<line x1="193.6" y1="191.8" x2="328.7" y2="191.8" stroke="#777" stroke-width="1.3" />
<line x1="259.1" y1="47.5" x2="259.1" y2="165.5" stroke="#666" stroke-width="1" />
<line x1="259.1" y1="176.6" x2="259.1" y2="191.8" stroke="#666" stroke-width="1" />
<line x1="193.4" y1="122.8" x2="297" y2="122.8" stroke="#3fb1a5" stroke-width="1.8" stroke-dasharray="1.9,3.35" opacity="0.85"/>
<line x1="266" y1="145.4" x2="331" y2="145.4" stroke="#3fb1a5" stroke-width="1.1" stroke-dasharray="1.1,0.95" opacity="0.6"/>
<path d="M330.4,142.8 L336.4,145.4 L330.4,148.1 Z" fill="#3fb1a5" opacity="0.75"/>
<ellipse cx="223" cy="80.3" rx="12.8" ry="16.2" fill="none" stroke="#000" stroke-width="1.9"/>
<ellipse cx="298.5" cy="80.3" rx="12.5" ry="16.2" fill="none" stroke="#000" stroke-width="1.9"/>
<ellipse cx="258.7" cy="145.3" rx="13" ry="16.2" fill="none" stroke="#000" stroke-width="1.9"/>
<path d="M259.8,145.6 C260.33,145.55 262.05,145.43 263,145.3 C263.95,145.17 264.53,145.38 265.5,144.8 C266.47,144.22 267.7,143.15 268.8,141.8 C269.9,140.45 270.63,138.7 272.1,136.7 C273.57,134.7 276,132.08 277.6,129.8 C279.2,127.52 280.67,125.07 281.7,123 C282.73,120.93 283.23,118.97 283.8,117.4 C284.37,115.83 285.73,114.43 285.1,113.6 C284.47,112.77 281.7,112.67 280,112.4 C278.3,112.13 278.27,112.53 274.9,112 C271.53,111.47 264.38,110.23 259.8,109.2 C255.22,108.17 251.75,107.17 247.4,105.8 C243.05,104.43 237.1,102.42 233.7,101 C230.3,99.58 228.87,98.43 227,97.3 C225.13,96.17 223.78,95.22 222.5,94.2 C221.22,93.18 220.12,92.32 219.3,91.2 C218.48,90.08 217.97,89.17 217.6,87.5 C217.23,85.83 217.18,82.25 217.1,81.2" fill="none" stroke="#3fb1a5" stroke-width="1.7" stroke-linejoin="round"/>
<circle cx="285.1" cy="113.4" r="2.6" fill="none" stroke="#ff2626" stroke-width="1.0"/>
<text x="225.4" y="57.3" font-size="7.6" text-anchor="middle" fill="#111" textLength="35.5" lengthAdjust="spacingAndGlyphs" >Left Target</text>
<text x="298.2" y="57.3" font-size="7.6" text-anchor="middle" fill="#111" textLength="40.5" lengthAdjust="spacingAndGlyphs" >Right Target</text>
<text x="259.45" y="173.7" font-size="8" text-anchor="middle" fill="#111" textLength="15.5" lengthAdjust="spacingAndGlyphs" >Start</text>
<text x="259.4" y="202.2" font-size="8.8" text-anchor="middle" fill="#222" textLength="73" lengthAdjust="spacingAndGlyphs" >Horizontal Position</text>
<text x="0" y="0" font-size="8.8" text-anchor="middle" fill="#222" textLength="61.8" lengthAdjust="spacingAndGlyphs" transform="translate(187.4,122.4) rotate(-90)">Vertical Position</text>
<line x1="324.2" y1="81" x2="324.2" y2="150.5" stroke="#555" stroke-width="1.1" />
<line x1="324.2" y1="150" x2="390.7" y2="150" stroke="#555" stroke-width="1.1" />
<path d="M334.3,81 C334.35,81.28 334.81,86.12 335.2,86.5 C335.58,86.88 341.19,88.25 342,88.5 C342.81,88.75 350.62,91.34 351.3,91.6 C351.98,91.85 354.87,93.43 355.5,93.6 C356.13,93.77 362.26,94.83 364,95 C365.74,95.17 388.94,96.79 390.3,97 C391.66,97.21 391.15,98.97 391.1,99.2 C391.06,99.44 390.75,101.45 389.4,101.7 C388.04,101.95 366.37,104.08 364,104.3 C361.63,104.52 343.31,105.83 342,106 C340.69,106.17 338.04,107.49 337.7,107.7 C337.36,107.91 335.39,109.95 335.2,110.2 C335,110.45 333.8,112.45 333.8,112.7 C333.8,112.95 334.92,115.05 335.2,115.3 C335.48,115.55 338.98,117.56 339.4,117.8 C339.82,118.03 342.62,119.81 343.6,120 C344.58,120.19 357.58,121.56 358.9,121.7 C360.21,121.84 369.24,122.67 369.9,122.9 C370.56,123.13 372.06,125.96 372.1,126.3 C372.15,126.64 371.04,129.36 370.8,129.7 C370.56,130.04 368.42,132.76 367.4,133.1 C366.38,133.44 351.8,136.19 350.4,136.5 C349,136.81 340.03,139.15 339.4,139.4 C338.76,139.66 337.81,141.32 337.7,141.6 C337.59,141.88 337.29,144.78 337.2,145 C337.11,145.22 335.87,145.95 335.8,146" fill="none" stroke="#3fb1a5" stroke-width="1.35" stroke-linejoin="round"/>
<circle cx="333.6" cy="112.7" r="2.4" fill="none" stroke="#ff2626" stroke-width="1.0"/>
<text x="0" y="0" font-size="9.6" text-anchor="middle" fill="#222" textLength="19.3" lengthAdjust="spacingAndGlyphs" transform="translate(313.3,122.6) rotate(90)">Time</text>
<text x="357.1" y="161.7" font-size="9.4" text-anchor="middle" fill="#222" textLength="30.3" lengthAdjust="spacingAndGlyphs" >Velocity</text>
<text x="0" y="0" font-size="27" fill="#000" transform="translate(438.9,18.4) scale(0.935,1)">B</text>
<rect x="479.5" y="129.7" width="6.8" height="59.5" fill="#c8c8c8" stroke="#111" stroke-width="1.15"/>
<rect x="488.37" y="142.3" width="6.8" height="46.9" fill="#c8c8c8" stroke="#111" stroke-width="1.15"/>
<rect x="497.24" y="63.5" width="6.8" height="125.7" fill="#c8c8c8" stroke="#111" stroke-width="1.15"/>
<rect x="506.11" y="78" width="6.8" height="111.2" fill="#c8c8c8" stroke="#111" stroke-width="1.15"/>
<rect x="514.98" y="78.8" width="6.8" height="110.4" fill="#c8c8c8" stroke="#111" stroke-width="1.15"/>
<rect x="523.85" y="120.6" width="6.8" height="68.6" fill="#c8c8c8" stroke="#111" stroke-width="1.15"/>
<rect x="532.72" y="163.4" width="6.8" height="25.8" fill="#c8c8c8" stroke="#111" stroke-width="1.15"/>
<rect x="541.59" y="161.5" width="6.8" height="27.7" fill="#c8c8c8" stroke="#111" stroke-width="1.15"/>
<rect x="550.46" y="172.7" width="6.8" height="16.5" fill="#c8c8c8" stroke="#111" stroke-width="1.15"/>
<rect x="559.33" y="180.4" width="6.8" height="8.8" fill="#c8c8c8" stroke="#111" stroke-width="1.15"/>
<rect x="568.2" y="165.4" width="6.8" height="23.8" fill="#c8c8c8" stroke="#111" stroke-width="1.15"/>
<rect x="577.07" y="171.2" width="6.8" height="18" fill="#c8c8c8" stroke="#111" stroke-width="1.15"/>
<rect x="585.94" y="182.6" width="6.8" height="6.6" fill="#c8c8c8" stroke="#111" stroke-width="1.15"/>
<rect x="594.81" y="184.4" width="6.8" height="4.8" fill="#c8c8c8" stroke="#111" stroke-width="1.15"/>
<rect x="603.68" y="186.8" width="6.8" height="2.4" fill="#c8c8c8" stroke="#111" stroke-width="1.15"/>
<rect x="612.55" y="186.8" width="6.8" height="2.4" fill="#c8c8c8" stroke="#111" stroke-width="1.15"/>
<path d="M464.5,189 L470,178 L476,150 L481,112 L484,98 L491,85 L499,67 L507.6,59 L518.6,44.6 L528.2,60.2 L530.5,80 L532.3,103.6 L536,140 L540,170 L543,189 L543,189 L537,150 L533,112 L529,103 L524,108.5 L518,109 L508,84 L505,84.5 L497,90 L490,118 L484,150 L478,175 L474,189 Z" fill="#3fb1a5" fill-opacity="0.36" stroke="none"/>
<line x1="482.9" y1="129.7" x2="482.9" y2="112.1" stroke="#222" stroke-width="1.2" />
<line x1="479.7" y1="112.1" x2="486.9" y2="112.1" stroke="#222" stroke-width="1.3" />
<line x1="491.77" y1="142.3" x2="491.77" y2="134.8" stroke="#222" stroke-width="1.2" />
<line x1="488.57" y1="134.8" x2="495.77" y2="134.8" stroke="#222" stroke-width="1.3" />
<line x1="500.64" y1="63.5" x2="500.64" y2="42.4" stroke="#222" stroke-width="1.2" />
<line x1="497.44" y1="42.4" x2="504.64" y2="42.4" stroke="#222" stroke-width="1.3" />
<line x1="509.51" y1="78" x2="509.51" y2="57.4" stroke="#222" stroke-width="1.2" />
<line x1="506.31" y1="57.4" x2="513.51" y2="57.4" stroke="#222" stroke-width="1.3" />
<line x1="518.38" y1="78.8" x2="518.38" y2="69.5" stroke="#222" stroke-width="1.2" />
<line x1="515.18" y1="69.5" x2="522.38" y2="69.5" stroke="#222" stroke-width="1.3" />
<line x1="527.25" y1="120.6" x2="527.25" y2="112.1" stroke="#222" stroke-width="1.2" />
<line x1="524.05" y1="112.1" x2="531.25" y2="112.1" stroke="#222" stroke-width="1.3" />
<line x1="536.12" y1="163.4" x2="536.12" y2="157.9" stroke="#222" stroke-width="1.2" />
<line x1="532.92" y1="157.9" x2="540.12" y2="157.9" stroke="#222" stroke-width="1.3" />
<line x1="544.99" y1="161.5" x2="544.99" y2="155.7" stroke="#222" stroke-width="1.2" />
<line x1="541.79" y1="155.7" x2="548.99" y2="155.7" stroke="#222" stroke-width="1.3" />
<line x1="553.86" y1="172.7" x2="553.86" y2="168.5" stroke="#222" stroke-width="1.2" />
<line x1="550.66" y1="168.5" x2="557.86" y2="168.5" stroke="#222" stroke-width="1.3" />
<line x1="562.73" y1="180.4" x2="562.73" y2="177.6" stroke="#222" stroke-width="1.2" />
<line x1="559.53" y1="177.6" x2="566.73" y2="177.6" stroke="#222" stroke-width="1.3" />
<line x1="571.6" y1="165.4" x2="571.6" y2="153.8" stroke="#222" stroke-width="1.2" />
<line x1="568.4" y1="153.8" x2="575.6" y2="153.8" stroke="#222" stroke-width="1.3" />
<line x1="580.47" y1="171.2" x2="580.47" y2="163.5" stroke="#222" stroke-width="1.2" />
<line x1="577.27" y1="163.5" x2="584.47" y2="163.5" stroke="#222" stroke-width="1.3" />
<line x1="589.34" y1="182.6" x2="589.34" y2="179.4" stroke="#222" stroke-width="1.2" />
<line x1="586.14" y1="179.4" x2="593.34" y2="179.4" stroke="#222" stroke-width="1.3" />
<line x1="598.21" y1="184.4" x2="598.21" y2="182.7" stroke="#222" stroke-width="1.2" />
<line x1="595.01" y1="182.7" x2="602.21" y2="182.7" stroke="#222" stroke-width="1.3" />
<line x1="607.08" y1="186.8" x2="607.08" y2="186" stroke="#222" stroke-width="1.2" />
<line x1="603.88" y1="186" x2="611.08" y2="186" stroke="#222" stroke-width="1.3" />
<line x1="615.95" y1="186.8" x2="615.95" y2="186" stroke="#222" stroke-width="1.2" />
<line x1="612.75" y1="186" x2="619.95" y2="186" stroke="#222" stroke-width="1.3" />
<polyline points="465.6,188.5 474.4,175.3 483.3,131 492.2,108 501,74.3 509.9,70 518.8,76.6 527.7,83 536.5,136 545.4,189 642.5,189" fill="none" stroke="#3fb1a5" stroke-width="1.8" stroke-linejoin="round"/>
<line x1="455" y1="40" x2="455" y2="189.8" stroke="#666" stroke-width="1.3" />
<line x1="454.4" y1="189.5" x2="646.5" y2="189.5" stroke="#111" stroke-width="1.4" />
<line x1="455.4" y1="156.27" x2="457.4" y2="156.27" stroke="#222" stroke-width="1" />
<line x1="455.4" y1="123.35" x2="457.4" y2="123.35" stroke="#222" stroke-width="1" />
<line x1="455.4" y1="90.42" x2="457.4" y2="90.42" stroke="#222" stroke-width="1" />
<line x1="455.4" y1="57.5" x2="457.4" y2="57.5" stroke="#222" stroke-width="1" />
<line x1="455.2" y1="189.2" x2="455.2" y2="187" stroke="#111" stroke-width="1" />
<line x1="493.1" y1="189.2" x2="493.1" y2="187" stroke="#111" stroke-width="1" />
<line x1="531" y1="189.2" x2="531" y2="187" stroke="#111" stroke-width="1" />
<line x1="568.9" y1="189.2" x2="568.9" y2="187" stroke="#111" stroke-width="1" />
<line x1="606.8" y1="189.2" x2="606.8" y2="187" stroke="#111" stroke-width="1" />
<line x1="644.7" y1="189.2" x2="644.7" y2="187" stroke="#111" stroke-width="1" />
<text x="447.6" y="60.2" font-size="9" text-anchor="end" fill="#222" textLength="14" lengthAdjust="spacingAndGlyphs" >0.2</text>
<text x="447.6" y="126.6" font-size="9" text-anchor="end" fill="#222" textLength="14" lengthAdjust="spacingAndGlyphs" >0.1</text>
<text x="448.6" y="193.2" font-size="9.6" text-anchor="end" fill="#222" >0</text>
<text x="454.8" y="199.5" font-size="9" text-anchor="middle" fill="#222" >0</text>
<text x="492.7" y="199.5" font-size="9" text-anchor="middle" fill="#222" >1</text>
<text x="530.6" y="199.5" font-size="9" text-anchor="middle" fill="#222" >2</text>
<text x="568.5" y="199.5" font-size="9" text-anchor="middle" fill="#222" >3</text>
<text x="606.4" y="199.5" font-size="9" text-anchor="middle" fill="#222" >4</text>
<text x="644.3" y="199.5" font-size="9" text-anchor="middle" fill="#222" >5</text>
<text x="548.9" y="211.4" font-size="9" text-anchor="middle" fill="#222" textLength="104.5" lengthAdjust="spacingAndGlyphs" >Change-of-mind onset [s]</text>
<text x="0" y="0" font-size="9" text-anchor="middle" fill="#222" textLength="44.5" lengthAdjust="spacingAndGlyphs" transform="translate(426.9,123.8) rotate(-90)">Proportion</text>
<line x1="556.2" y1="137.7" x2="565.7" y2="137.7" stroke="#3fb1a5" stroke-width="1.9" />
<text x="567.1" y="141.2" font-size="9.2" text-anchor="start" fill="#222" textLength="63" lengthAdjust="spacingAndGlyphs" >Simulated Data</text>
<text x="0" y="0" font-size="27" fill="#000" transform="translate(5.1,246.8) scale(0.92,1)">C</text>
<path d="M48,340 C48.2,339.05 48.63,336.2 49.2,334.3 C49.77,332.4 50.45,330.2 51.4,328.6 C52.35,327 53.93,325.27 54.9,324.7 C55.87,324.13 56.25,324.17 57.2,325.2 C58.15,326.23 59.47,328.43 60.6,330.9 C61.73,333.37 62.85,337.33 64,340 C65.15,342.67 66.35,346.9 67.5,346.9 C68.65,346.9 69.77,343.05 70.9,340 C72.03,336.95 73.17,332.4 74.3,328.6 C75.43,324.8 76.63,320.82 77.7,317.2 C78.77,313.58 79.82,309.08 80.7,306.9 C81.58,304.72 82.15,304.18 83,304.1 C83.85,304.02 84.77,305.18 85.8,306.4 C86.83,307.62 88.07,310.75 89.2,311.4 C90.33,312.05 91.47,310.6 92.6,310.3 C93.73,310 94.93,309.03 96,309.6 C97.07,310.17 98.03,311.48 99,313.7 C99.97,315.92 100.93,320.02 101.8,322.9 C102.67,325.78 103.35,328.53 104.2,331 C105.05,333.47 105.88,337.92 106.9,337.7 C107.92,337.48 108.97,333.7 110.3,329.7 C111.63,325.7 113.38,317.7 114.9,313.7 C116.42,309.7 118.07,306.45 119.4,305.7 C120.73,304.95 121.75,306.33 122.9,309.2 C124.05,312.07 125.17,318.72 126.3,322.9 C127.43,327.08 128.37,331.25 129.7,334.3 C131.03,337.35 132.77,340.05 134.3,341.2 C135.83,342.35 137.37,341.4 138.9,341.2 C140.43,341 142.17,339.62 143.5,340 C144.83,340.38 145.57,341.97 146.9,343.5 C148.23,345.03 149.97,347.3 151.5,349.2 C153.03,351.1 154.58,353.75 156.1,354.9 C157.62,356.05 159.27,356.28 160.6,356.1 C161.93,355.92 162.95,354.57 164.1,353.8 C165.25,353.03 166.93,351.88 167.5,351.5 L167.5,392.7 C166.73,392.7 164.23,392.52 162.9,392.7 C161.57,392.88 160.83,394 159.5,393.8 C158.17,393.6 156.43,392.83 154.9,391.5 C153.37,390.17 151.82,387.7 150.3,385.8 C148.78,383.9 147.32,381.05 145.8,380.1 C144.28,379.15 142.73,379.92 141.2,380.1 C139.67,380.28 138.13,381.97 136.6,381.2 C135.07,380.43 133.52,377.6 132,375.5 C130.48,373.4 129.02,370.88 127.5,368.6 C125.98,366.32 124.25,363.52 122.9,361.8 C121.55,360.08 120.73,358.3 119.4,358.3 C118.07,358.3 116.42,360.47 114.9,361.8 C113.38,363.13 111.63,365.17 110.3,366.3 C108.97,367.43 107.93,369.48 106.9,368.6 C105.87,367.72 105.03,363.28 104.1,361 C103.17,358.72 102.27,356.37 101.3,354.9 C100.33,353.43 99.37,352.38 98.3,352.2 C97.23,352.02 96.23,353.15 94.9,353.8 C93.57,354.45 91.82,355.35 90.3,356.1 C88.78,356.85 87.13,357.93 85.8,358.3 C84.47,358.67 83.65,357.72 82.3,358.3 C80.95,358.88 79.22,360.08 77.7,361.8 C76.18,363.52 74.53,365.93 73.2,368.6 C71.87,371.27 70.73,375.2 69.7,377.8 C68.67,380.4 67.95,383.82 67,384.2 C66.05,384.58 65.07,381.93 64,380.1 C62.93,378.27 61.73,374.92 60.6,373.2 C59.47,371.48 58.35,370.57 57.2,369.8 C56.05,369.03 54.85,368.8 53.7,368.6 C52.55,368.4 51.25,367.63 50.3,368.6 C49.35,369.57 48.38,373.43 48,374.4 Z" fill="#3fb1a5" fill-opacity="0.21" stroke="none"/>
<path d="M48,367.3 C48.57,367.62 50.25,369 51.4,369.2 C52.55,369.4 53.57,368.92 54.9,368.5 C56.23,368.08 57.68,367.17 59.4,366.7 C61.12,366.23 63.1,365.9 65.2,365.7 C67.3,365.5 69.72,365.5 72,365.5 C74.28,365.5 76.6,365.58 78.9,365.7 C81.2,365.82 83.7,365.93 85.8,366.2 C87.9,366.47 89.6,367.12 91.5,367.3 C93.4,367.48 95.3,367.48 97.2,367.3 C99.1,367.12 101.28,366.43 102.9,366.2 C104.52,365.97 105.1,366.1 106.9,365.9 C108.7,365.7 111.42,365.07 113.7,365 C115.98,364.93 118.3,365.18 120.6,365.5 C122.9,365.82 125.22,366.6 127.5,366.9 C129.78,367.2 132.02,367.15 134.3,367.3 C136.58,367.45 138.92,367.68 141.2,367.8 C143.48,367.92 145.72,368.08 148,368 C150.28,367.92 152.6,367.48 154.9,367.3 C157.2,367.12 159.7,366.97 161.8,366.9 C163.9,366.83 166.55,366.9 167.5,366.9 L167.5,369.5 C166.55,369.5 163.9,369.43 161.8,369.5 C159.7,369.57 157.2,369.72 154.9,369.9 C152.6,370.08 150.28,370.52 148,370.6 C145.72,370.68 143.48,370.52 141.2,370.4 C138.92,370.28 136.58,370.05 134.3,369.9 C132.02,369.75 129.78,369.8 127.5,369.5 C125.22,369.2 122.9,368.42 120.6,368.1 C118.3,367.78 115.98,367.53 113.7,367.6 C111.42,367.67 108.7,368.3 106.9,368.5 C105.1,368.7 104.52,368.57 102.9,368.8 C101.28,369.03 99.1,369.72 97.2,369.9 C95.3,370.08 93.4,370.08 91.5,369.9 C89.6,369.72 87.9,369.07 85.8,368.8 C83.7,368.53 81.2,368.42 78.9,368.3 C76.6,368.18 74.28,368.1 72,368.1 C69.72,368.1 67.3,368.1 65.2,368.3 C63.1,368.5 61.12,368.83 59.4,369.3 C57.68,369.77 56.23,370.68 54.9,371.1 C53.57,371.52 52.55,372 51.4,371.8 C50.25,371.6 48.57,370.22 48,369.9 Z" fill="#e6c47a" fill-opacity="0.30" stroke="none"/>
<path d="M48,368.6 C48.57,368.92 50.25,370.3 51.4,370.5 C52.55,370.7 53.57,370.22 54.9,369.8 C56.23,369.38 57.68,368.47 59.4,368 C61.12,367.53 63.1,367.2 65.2,367 C67.3,366.8 69.72,366.8 72,366.8 C74.28,366.8 76.6,366.88 78.9,367 C81.2,367.12 83.7,367.23 85.8,367.5 C87.9,367.77 89.6,368.42 91.5,368.6 C93.4,368.78 95.3,368.78 97.2,368.6 C99.1,368.42 101.28,367.73 102.9,367.5 C104.52,367.27 105.1,367.4 106.9,367.2 C108.7,367 111.42,366.37 113.7,366.3 C115.98,366.23 118.3,366.48 120.6,366.8 C122.9,367.12 125.22,367.9 127.5,368.2 C129.78,368.5 132.02,368.45 134.3,368.6 C136.58,368.75 138.92,368.98 141.2,369.1 C143.48,369.22 145.72,369.38 148,369.3 C150.28,369.22 152.6,368.78 154.9,368.6 C157.2,368.42 159.7,368.27 161.8,368.2 C163.9,368.13 166.55,368.2 167.5,368.2" fill="none" stroke="#e7c47f" stroke-width="1.15" stroke-linejoin="round" stroke-linecap="round"/>
<path d="M48,362.9 C48.27,361.75 48.83,358.48 49.6,356 C50.37,353.52 51.53,350.08 52.6,348 C53.67,345.92 55.05,343.87 56,343.5 C56.95,343.13 57.35,343.9 58.3,345.8 C59.25,347.7 60.55,351.85 61.7,354.9 C62.85,357.95 64.23,362.27 65.2,364.1 C66.17,365.93 66.55,366.67 67.5,365.9 C68.45,365.13 69.57,362.28 70.9,359.5 C72.23,356.72 74.17,352.45 75.5,349.2 C76.83,345.95 77.77,343.25 78.9,340 C80.03,336.75 81.15,331.1 82.3,329.7 C83.45,328.3 84.65,330.83 85.8,331.6 C86.95,332.37 88.07,334.42 89.2,334.3 C90.33,334.18 91.47,331.58 92.6,330.9 C93.73,330.22 94.85,329.63 96,330.2 C97.15,330.77 98.27,332.08 99.5,334.3 C100.73,336.52 102.17,340.45 103.4,343.5 C104.63,346.55 105.93,350.88 106.9,352.6 C107.87,354.32 108.25,354.57 109.2,353.8 C110.15,353.03 111.27,351.25 112.6,348 C113.93,344.75 115.95,337.15 117.2,334.3 C118.45,331.45 119.15,330.9 120.1,330.9 C121.05,330.9 121.87,331.82 122.9,334.3 C123.93,336.78 124.97,342.17 126.3,345.8 C127.63,349.43 129.37,353.25 130.9,356.1 C132.43,358.95 134.17,362.15 135.5,362.9 C136.83,363.65 137.77,361.55 138.9,360.6 C140.03,359.65 141.15,357.2 142.3,357.2 C143.45,357.2 144.47,358.88 145.8,360.6 C147.13,362.32 148.78,365.4 150.3,367.5 C151.82,369.6 153.37,371.78 154.9,373.2 C156.43,374.62 158.17,375.8 159.5,376 C160.83,376.2 161.95,375.05 162.9,374.4 C163.85,373.75 164.43,372.3 165.2,372.1 C165.97,371.9 167.12,373.02 167.5,373.2" fill="none" stroke="#3fb1a5" stroke-width="1.5" stroke-linejoin="round" stroke-linecap="round"/>
<path d="M192.1,362.9 C192.57,362.13 193.87,360.02 194.9,358.3 C195.93,356.58 197.17,353.73 198.3,352.6 C199.43,351.47 200.37,352.27 201.7,351.5 C203.03,350.73 204.77,349.53 206.3,348 C207.83,346.47 209.37,343.82 210.9,342.3 C212.43,340.78 213.98,340.03 215.5,338.9 C217.02,337.77 218.48,336.83 220,335.5 C221.52,334.17 223.07,332.05 224.6,330.9 C226.13,329.75 227.67,328.8 229.2,328.6 C230.73,328.4 232.28,330.08 233.8,329.7 C235.32,329.32 236.78,327.25 238.3,326.3 C239.82,325.35 241.3,324.65 242.9,324 C244.5,323.35 246.72,321.07 247.9,322.4 C249.08,323.73 249.27,328.48 250,332 C250.73,335.52 251.35,340.25 252.3,343.5 C253.25,346.75 254.37,349.6 255.7,351.5 C257.03,353.4 258.77,354.33 260.3,354.9 C261.83,355.47 263.38,354.52 264.9,354.9 C266.42,355.28 267.88,356.43 269.4,357.2 C270.92,357.97 272.47,359.88 274,359.5 C275.53,359.12 277.07,357.77 278.6,354.9 C280.13,352.03 281.57,346.12 283.2,342.3 C284.83,338.48 286.88,332.77 288.4,332 C289.92,331.23 291.07,335.03 292.3,337.7 C293.53,340.37 294.65,345.13 295.8,348 C296.95,350.87 297.87,355.27 299.2,354.9 C300.53,354.53 302.28,349.23 303.8,345.8 C305.32,342.37 307.05,338.12 308.3,334.3 C309.55,330.48 310.8,324.8 311.3,322.9 L311.3,368.6 C310.62,370.13 308.65,374.93 307.2,377.8 C305.75,380.67 303.93,383.7 302.6,385.8 C301.27,387.9 300.33,390.22 299.2,390.4 C298.07,390.58 297.13,389 295.8,386.9 C294.47,384.8 292.55,379.7 291.2,377.8 C289.85,375.9 288.85,374.73 287.7,375.5 C286.55,376.27 285.63,379.53 284.3,382.4 C282.97,385.27 281.03,390.42 279.7,392.7 C278.37,394.98 277.43,395.73 276.3,396.1 C275.17,396.47 274.23,395.85 272.9,394.9 C271.57,393.95 269.83,391.73 268.3,390.4 C266.77,389.07 265.22,386.33 263.7,386.9 C262.18,387.47 260.53,393.22 259.2,393.8 C257.87,394.38 256.85,392.3 255.7,390.4 C254.55,388.5 253.25,385.47 252.3,382.4 C251.35,379.33 250.8,375.25 250,372 C249.2,368.75 248.68,364.42 247.5,362.9 C246.32,361.38 244.43,362.78 242.9,362.9 C241.37,363.02 239.82,363.22 238.3,363.6 C236.78,363.98 235.32,364.75 233.8,365.2 C232.28,365.65 230.73,365.73 229.2,366.3 C227.67,366.87 226.13,367.45 224.6,368.6 C223.07,369.75 221.52,371.67 220,373.2 C218.48,374.73 217.02,376.85 215.5,377.8 C213.98,378.75 212.25,378.33 210.9,378.9 C209.55,379.47 208.55,379.87 207.4,381.2 C206.25,382.53 205.13,384.42 204,386.9 C202.87,389.38 201.73,394.18 200.6,396.1 C199.47,398.02 198.35,398.4 197.2,398.4 C196.05,398.4 194.55,399.92 193.7,396.1 C192.85,392.28 192.37,378.93 192.1,375.5 Z" fill="#3fb1a5" fill-opacity="0.21" stroke="none"/>
<path d="M192.1,357.2 C192.57,355.48 193.87,348.43 194.9,346.9 C195.93,345.37 197.17,346.85 198.3,348 C199.43,349.15 200.37,351.32 201.7,353.8 C203.03,356.28 204.77,362.33 206.3,362.9 C207.83,363.47 209.37,359.48 210.9,357.2 C212.43,354.92 213.98,351.48 215.5,349.2 C217.02,346.92 218.48,345.03 220,343.5 C221.52,341.97 223.07,340.38 224.6,340 C226.13,339.62 227.67,341.08 229.2,341.2 C230.73,341.32 232.28,341.08 233.8,340.7 C235.32,340.32 236.78,339.58 238.3,338.9 C239.82,338.22 241.37,336.42 242.9,336.6 C244.43,336.78 246.32,337.72 247.5,340 C248.68,342.28 248.82,347.43 250,350.3 C251.18,353.17 253.07,355.67 254.6,357.2 C256.13,358.73 257.68,359.2 259.2,359.5 C260.72,359.8 262.18,359 263.7,359 C265.22,359 266.77,358.85 268.3,359.5 C269.83,360.15 271.57,362.13 272.9,362.9 C274.23,363.67 274.97,364.48 276.3,364.1 C277.63,363.72 279.37,362.32 280.9,360.6 C282.43,358.88 283.98,355.9 285.5,353.8 C287.02,351.7 288.67,349.15 290,348 C291.33,346.85 292.17,346.13 293.5,346.9 C294.83,347.67 296.48,350.5 298,352.6 C299.52,354.7 301.07,356.83 302.6,359.5 C304.13,362.17 305.75,366.5 307.2,368.6 C308.65,370.7 310.62,371.52 311.3,372.1 L311.3,394.9 C310.62,394.33 308.65,393.02 307.2,391.5 C305.75,389.98 304.13,388.47 302.6,385.8 C301.07,383.13 299.52,378.37 298,375.5 C296.48,372.63 294.83,369.37 293.5,368.6 C292.17,367.83 291.33,369.18 290,370.9 C288.67,372.62 287.02,376.62 285.5,378.9 C283.98,381.18 282.43,383.07 280.9,384.6 C279.37,386.13 277.63,387.72 276.3,388.1 C274.97,388.48 274.23,388.62 272.9,386.9 C271.57,385.18 269.83,379.32 268.3,377.8 C266.77,376.28 265.22,377.8 263.7,377.8 C262.18,377.8 260.72,378.37 259.2,377.8 C257.68,377.23 256.13,376.32 254.6,374.4 C253.07,372.48 251.18,368.6 250,366.3 C248.82,364 248.68,361.82 247.5,360.6 C246.32,359.38 244.43,359.12 242.9,359 C241.37,358.88 239.82,359.43 238.3,359.9 C236.78,360.37 235.32,361.57 233.8,361.8 C232.28,362.03 230.73,361.3 229.2,361.3 C227.67,361.3 226.13,361.15 224.6,361.8 C223.07,362.45 221.52,363.68 220,365.2 C218.48,366.72 217.02,368.62 215.5,370.9 C213.98,373.18 212.43,376.98 210.9,378.9 C209.37,380.82 207.83,382.97 206.3,382.4 C204.77,381.83 203.03,377.42 201.7,375.5 C200.37,373.58 199.43,371.85 198.3,370.9 C197.17,369.95 195.93,369.03 194.9,369.8 C193.87,370.57 192.57,374.55 192.1,375.5 Z" fill="#e6c47a" fill-opacity="0.30" stroke="none"/>
<path d="M192.1,368.6 C192.37,367.47 193.05,363.7 193.7,361.8 C194.35,359.9 195.23,357.58 196,357.2 C196.77,356.82 197.35,357.98 198.3,359.5 C199.25,361.02 200.37,364.2 201.7,366.3 C203.03,368.4 204.97,371.52 206.3,372.1 C207.63,372.68 208.37,371.52 209.7,369.8 C211.03,368.08 212.77,364.47 214.3,361.8 C215.83,359.13 217.57,355.72 218.9,353.8 C220.23,351.88 221.35,350.5 222.3,350.3 C223.25,350.1 223.65,352.52 224.6,352.6 C225.55,352.68 226.67,350.8 228,350.8 C229.33,350.8 231.07,352.48 232.6,352.6 C234.13,352.72 235.48,352.07 237.2,351.5 C238.92,350.93 241.27,349.32 242.9,349.2 C244.53,349.08 245.67,350.23 247,350.8 C248.33,351.37 249.63,350.2 250.9,352.6 C252.17,355 253.42,362.53 254.6,365.2 C255.78,367.87 256.67,368.03 258,368.6 C259.33,369.17 261.07,368.67 262.6,368.6 C264.13,368.53 265.87,368 267.2,368.2 C268.53,368.4 269.47,368.4 270.6,369.8 C271.73,371.2 273.05,375.27 274,376.6 C274.95,377.93 275.15,378.37 276.3,377.8 C277.45,377.23 279.37,374.73 280.9,373.2 C282.43,371.67 284.17,370.32 285.5,368.6 C286.83,366.88 287.77,364.62 288.9,362.9 C290.03,361.18 291.15,358.3 292.3,358.3 C293.45,358.3 294.47,360.98 295.8,362.9 C297.13,364.82 298.78,367.52 300.3,369.8 C301.82,372.08 303.57,374.43 304.9,376.6 C306.23,378.77 307.23,381.53 308.3,382.8 C309.37,384.07 310.8,383.97 311.3,384.2" fill="none" stroke="#dcb45f" stroke-width="1.5" stroke-linejoin="round" stroke-linecap="round"/>
<path d="M192.1,364.1 C192.37,366.38 193.05,373.62 193.7,377.8 C194.35,381.98 195.23,387.1 196,389.2 C196.77,391.3 197.53,391.17 198.3,390.4 C199.07,389.63 199.65,388.03 200.6,384.6 C201.55,381.17 202.87,373.03 204,369.8 C205.13,366.57 206.25,366.05 207.4,365.2 C208.55,364.35 209.75,365.08 210.9,364.7 C212.05,364.32 212.97,363.77 214.3,362.9 C215.63,362.03 217.37,360.63 218.9,359.5 C220.43,358.37 221.98,357.43 223.5,356.1 C225.02,354.77 226.48,352.27 228,351.5 C229.52,350.73 231.07,351.7 232.6,351.5 C234.13,351.3 235.87,350.8 237.2,350.3 C238.53,349.8 239.45,348.57 240.6,348.5 C241.75,348.43 242.88,349.67 244.1,349.9 C245.32,350.13 246.73,349.45 247.9,349.9 C249.07,350.35 250.18,350.62 251.1,352.6 C252.02,354.58 252.43,358.55 253.4,361.8 C254.37,365.05 255.75,369.9 256.9,372.1 C258.05,374.3 258.97,374.73 260.3,375 C261.63,375.27 263.38,373.43 264.9,373.7 C266.42,373.97 267.88,375.73 269.4,376.6 C270.92,377.47 272.85,378.52 274,378.9 C275.15,379.28 275.35,379.85 276.3,378.9 C277.25,377.95 278.37,376.05 279.7,373.2 C281.03,370.35 282.85,364.97 284.3,361.8 C285.75,358.63 287.25,355.15 288.4,354.2 C289.55,353.25 290.17,354.08 291.2,356.1 C292.23,358.12 293.47,363.25 294.6,366.3 C295.73,369.35 296.85,373.82 298,374.4 C299.15,374.98 300.35,371.9 301.5,369.8 C302.65,367.7 303.77,364.08 304.9,361.8 C306.03,359.52 307.23,358.58 308.3,356.1 C309.37,353.62 310.8,348.43 311.3,346.9" fill="none" stroke="#3fb1a5" stroke-width="1.5" stroke-linejoin="round" stroke-linecap="round"/>
<path d="M413.31,352.9 C413.82,353.11 415.2,353.53 416.34,354.16 C417.47,354.79 418.64,355.63 420.11,356.68 C421.58,357.72 423.68,358.56 425.15,360.45 C426.62,362.34 427.67,365.99 428.93,368.01 C430.19,370.03 431.57,371.7 432.71,372.54 C433.84,373.38 434.68,375.06 435.73,373.05 C436.78,371.03 437.83,366.75 439.01,360.45 C440.18,354.16 441.52,341.56 442.78,335.26 C444.04,328.97 445.3,325.52 446.56,322.67 C447.82,319.82 449.08,318.35 450.34,318.14 C451.6,317.93 452.86,320.45 454.12,321.41 C455.38,322.38 456.51,323.09 457.9,323.93 C459.28,324.77 460.96,325.19 462.43,326.45 C463.9,327.71 465.37,329.81 466.71,331.49 C468.06,333.17 469.23,335.47 470.49,336.52 C471.75,337.57 473.01,337.99 474.27,337.78 C475.53,337.57 476.79,335.89 478.05,335.26 C479.31,334.63 480.57,334.63 481.83,334.01 C483.09,333.38 484.14,331.28 485.6,331.49 C487.07,331.7 489.17,334.84 490.64,335.26 C492.11,335.68 493.16,333.17 494.42,334.01 C495.68,334.84 496.73,338.41 498.2,340.3 C499.67,342.19 501.56,344.71 503.24,345.34 C504.92,345.97 506.6,344.5 508.27,344.08 C509.95,343.66 511.84,342.82 513.31,342.82 C514.78,342.82 515.83,343.24 517.09,344.08 C518.35,344.92 519.4,347.86 520.87,347.86 C522.34,347.86 524.44,345.55 525.91,344.08 C527.38,342.61 528.64,340.72 529.69,339.04 C530.73,337.36 531.78,334.84 532.2,334.01 L532.2,379.35 C531.57,379.97 529.9,381.65 528.43,383.12 C526.96,384.59 524.86,387.74 523.39,388.16 C521.92,388.58 520.87,386.48 519.61,385.64 C518.35,384.8 517.3,383.12 515.83,383.12 C514.36,383.12 512.47,384.8 510.79,385.64 C509.11,386.48 507.23,387.95 505.76,388.16 C504.29,388.37 503.45,388.16 501.98,386.9 C500.51,385.64 498.62,382.07 496.94,380.6 C495.26,379.14 493.58,378.93 491.9,378.09 C490.22,377.25 488.33,376.62 486.86,375.57 C485.39,374.52 484.35,372.42 483.09,371.79 C481.83,371.16 480.57,371.58 479.31,371.79 C478.05,372 476.79,372.42 475.53,373.05 C474.27,373.68 473.01,375.36 471.75,375.57 C470.49,375.78 469.23,375.15 467.97,374.31 C466.71,373.47 465.45,371.66 464.19,370.53 C462.93,369.4 461.68,368.14 460.42,367.51 C459.16,366.88 457.9,366.46 456.64,366.75 C455.38,367.04 454.12,369.06 452.86,369.27 C451.6,369.48 450.34,367.38 449.08,368.01 C447.82,368.64 446.56,369.9 445.3,373.05 C444.04,376.2 442.78,382.07 441.52,386.9 C440.26,391.73 439.01,398.53 437.75,402.02 C436.49,405.5 435.23,407.18 433.97,407.81 C432.71,408.44 431.45,406.76 430.19,405.79 C428.93,404.83 427.67,403.06 426.41,402.02 C425.15,400.97 423.89,400.13 422.63,399.5 C421.37,398.87 420.11,398.66 418.85,398.24 C417.59,397.82 416,399.5 415.08,396.98 C414.15,394.46 413.61,385.43 413.31,383.12 Z" fill="#3fb1a5" fill-opacity="0.21" stroke="none"/>
<path d="M413.31,382.12 C415.29,382.12 421.08,382.21 425.15,382.12 C429.22,382.04 433.97,381.75 437.75,381.62 C441.52,381.49 444.88,381.54 447.82,381.37 C450.76,381.2 452.86,380.65 455.38,380.61 C457.9,380.57 460,380.99 462.93,381.12 C465.87,381.24 469.65,381.33 473.01,381.37 C476.37,381.41 479.73,381.41 483.09,381.37 C486.44,381.33 489.8,380.99 493.16,381.12 C496.52,381.24 499.88,381.87 503.24,382.12 C506.6,382.38 509.95,382.5 513.31,382.63 C516.67,382.75 520.24,382.8 523.39,382.88 C526.54,382.96 530.73,383.09 532.2,383.13 L532.2,385.13 C530.73,385.09 526.54,384.96 523.39,384.88 C520.24,384.8 516.67,384.75 513.31,384.63 C509.95,384.5 506.6,384.38 503.24,384.12 C499.88,383.87 496.52,383.24 493.16,383.12 C489.8,382.99 486.44,383.33 483.09,383.37 C479.73,383.41 476.37,383.41 473.01,383.37 C469.65,383.33 465.87,383.24 462.93,383.12 C460,382.99 457.9,382.57 455.38,382.61 C452.86,382.65 450.76,383.2 447.82,383.37 C444.88,383.54 441.52,383.49 437.75,383.62 C433.97,383.75 429.22,384.04 425.15,384.12 C421.08,384.21 415.29,384.12 413.31,384.12 Z" fill="#e6c47a" fill-opacity="0.30" stroke="none"/>
<path d="M413.31,383.12 C415.29,383.12 421.08,383.21 425.15,383.12 C429.22,383.04 433.97,382.75 437.75,382.62 C441.52,382.49 444.88,382.54 447.82,382.37 C450.76,382.2 452.86,381.65 455.38,381.61 C457.9,381.57 460,381.99 462.93,382.12 C465.87,382.24 469.65,382.33 473.01,382.37 C476.37,382.41 479.73,382.41 483.09,382.37 C486.44,382.33 489.8,381.99 493.16,382.12 C496.52,382.24 499.88,382.87 503.24,383.12 C506.6,383.38 509.95,383.5 513.31,383.63 C516.67,383.75 520.24,383.8 523.39,383.88 C526.54,383.96 530.73,384.09 532.2,384.13" fill="none" stroke="#e7c47f" stroke-width="1.1" stroke-linejoin="round" stroke-linecap="round"/>
<path d="M413.3,366 C413.52,367.38 413.97,372.5 414.6,374.3 C415.23,376.1 416.18,376.8 417.1,376.8 C418.02,376.8 419.1,374.3 420.1,374.3 C421.1,374.3 422.05,375.53 423.1,376.8 C424.15,378.07 425.22,380 426.4,381.9 C427.58,383.8 428.93,386.65 430.2,388.2 C431.47,389.75 432.83,391.42 434,391.2 C435.17,390.98 436.15,389.72 437.2,386.9 C438.25,384.08 439.17,379.55 440.3,374.3 C441.43,369.05 442.75,360.43 444,355.4 C445.25,350.37 446.67,346.53 447.8,344.1 C448.93,341.67 449.75,340.93 450.8,340.8 C451.85,340.67 453.05,342.33 454.1,343.3 C455.15,344.27 456.05,346.27 457.1,346.6 C458.15,346.93 459.22,345.08 460.4,345.3 C461.58,345.52 462.93,346.42 464.2,347.9 C465.47,349.38 466.73,352.32 468,354.2 C469.27,356.08 470.33,357.95 471.8,359.2 C473.27,360.45 475.33,362 476.8,361.7 C478.27,361.4 479.35,358.87 480.6,357.4 C481.85,355.93 483.05,353.73 484.3,352.9 C485.55,352.07 486.7,352.4 488.1,352.4 C489.5,352.4 491.23,351.77 492.7,352.9 C494.17,354.03 495.35,357.02 496.9,359.2 C498.45,361.38 500.52,364.45 502,366 C503.48,367.55 504.55,368.5 505.8,368.5 C507.05,368.5 508.03,366.92 509.5,366 C510.97,365.08 513.12,363 514.6,363 C516.08,363 517.15,365.17 518.4,366 C519.65,366.83 520.85,368 522.1,368 C523.35,368 524.22,367.88 525.9,366 C527.58,364.12 531.15,358.25 532.2,356.7" fill="none" stroke="#3fb1a5" stroke-width="1.5" stroke-linejoin="round" stroke-linecap="round"/>
<path d="M557,348 C557.7,348.58 559.75,349.78 561.2,351.5 C562.65,353.22 564.18,355.45 565.7,358.3 C567.22,361.15 568.77,367.45 570.3,368.6 C571.83,369.75 573.37,366.72 574.9,365.2 C576.43,363.68 577.78,360.83 579.5,359.5 C581.22,358.17 583.3,357.77 585.2,357.2 C587.1,356.63 589,356.48 590.9,356.1 C592.8,355.72 594.7,355.28 596.6,354.9 C598.5,354.52 600.58,353.03 602.3,353.8 C604.02,354.57 605.57,357.78 606.9,359.5 C608.23,361.22 609.15,364.85 610.3,364.1 C611.45,363.35 612.57,359.2 613.8,355 C615.03,350.8 616.28,341.97 617.7,338.9 C619.12,335.83 620.77,336.42 622.3,336.6 C623.83,336.78 625.38,340.18 626.9,340 C628.42,339.82 629.88,338.73 631.4,335.5 C632.92,332.27 634.47,324.42 636,320.6 C637.53,316.78 639.07,312.6 640.6,312.6 C642.13,312.6 643.68,317.37 645.2,320.6 C646.72,323.83 648.18,329.52 649.7,332 C651.22,334.48 652.77,336.07 654.3,335.5 C655.83,334.93 657.37,330.7 658.9,328.6 C660.43,326.5 661.78,324.05 663.5,322.9 C665.22,321.75 667.68,321.7 669.2,321.7 C670.72,321.7 671.45,322.32 672.6,322.9 C673.75,323.48 675.52,324.82 676.1,325.2 L676.1,368.6 C675.52,368.03 673.93,365.58 672.6,365.2 C671.27,364.82 669.62,365.53 668.1,366.3 C666.58,367.07 665.03,368.45 663.5,369.8 C661.97,371.15 660.43,373.45 658.9,374.4 C657.37,375.35 655.83,376.08 654.3,375.5 C652.77,374.92 651.22,373.57 649.7,370.9 C648.18,368.23 646.72,362.55 645.2,359.5 C643.68,356.45 642.02,351.83 640.6,352.6 C639.18,353.37 638.03,359.33 636.7,364.1 C635.37,368.87 633.85,377.58 632.6,381.2 C631.35,384.82 630.35,385.6 629.2,385.8 C628.05,386 627.03,384.5 625.7,382.4 C624.37,380.3 622.53,375.12 621.2,373.2 C619.87,371.28 618.85,368.1 617.7,370.9 C616.55,373.7 615.33,385.4 614.3,390 C613.27,394.6 612.57,397.25 611.5,398.5 C610.43,399.75 609.75,397.98 607.9,397.5 C606.05,397.02 603.33,395.48 600.4,395.6 C597.47,395.72 593.25,397.57 590.3,398.2 C587.35,398.83 585.22,398.78 582.7,399.4 C580.18,400.02 577.72,401.7 575.2,401.9 C572.68,402.1 569.92,401.65 567.6,400.6 C565.28,399.55 562.8,397.37 561.3,395.6 C559.8,393.83 559.32,392.6 558.6,390 C557.88,387.4 557.27,381.67 557,380 Z" fill="#3fb1a5" fill-opacity="0.21" stroke="none"/>
<path d="M557,373.2 C557.7,373.97 559.75,377.23 561.2,377.8 C562.65,378.37 564.18,377.75 565.7,376.6 C567.22,375.45 568.77,372.98 570.3,370.9 C571.83,368.82 573.37,366.38 574.9,364.1 C576.43,361.82 577.78,359.3 579.5,357.2 C581.22,355.1 583.5,352.07 585.2,351.5 C586.9,350.93 587.98,353.62 589.7,353.8 C591.42,353.98 593.78,353.93 595.5,352.6 C597.22,351.27 598.48,348.08 600,345.8 C601.52,343.52 603.07,341 604.6,338.9 C606.13,336.8 607.67,335.35 609.2,333.2 C610.73,331.05 612.42,327.95 613.8,326 C615.18,324.05 616.38,322.4 617.5,321.5 C618.62,320.6 619.32,320.37 620.5,320.6 C621.68,320.83 623.15,321.57 624.6,322.9 C626.05,324.23 627.68,327.08 629.2,328.6 C630.72,330.12 632.18,331.62 633.7,332 C635.22,332.38 636.77,331.28 638.3,330.9 C639.83,330.52 641.37,329.32 642.9,329.7 C644.43,330.08 645.98,332.05 647.5,333.2 C649.02,334.35 650.48,335.47 652,336.6 C653.52,337.73 655.07,339.05 656.6,340 C658.13,340.95 659.67,341.53 661.2,342.3 C662.73,343.07 664.28,343.45 665.8,344.6 C667.32,345.75 668.97,347.67 670.3,349.2 C671.63,350.73 672.83,352.47 673.8,353.8 C674.77,355.13 675.72,356.63 676.1,357.2 L676.1,374.4 C675.72,374.2 674.77,374.17 673.8,373.2 C672.83,372.23 671.63,370.32 670.3,368.6 C668.97,366.88 667.32,364.42 665.8,362.9 C664.28,361.38 662.73,360.45 661.2,359.5 C659.67,358.55 658.13,358.15 656.6,357.2 C655.07,356.25 653.52,354.95 652,353.8 C650.48,352.65 649.02,351.27 647.5,350.3 C645.98,349.33 644.43,348.18 642.9,348 C641.37,347.82 639.83,348.82 638.3,349.2 C636.77,349.58 635.22,350.68 633.7,350.3 C632.18,349.92 630.72,348.42 629.2,346.9 C627.68,345.38 626.05,342.53 624.6,341.2 C623.15,339.87 621.73,339.1 620.5,338.9 C619.27,338.7 618.32,339.05 617.2,340 C616.08,340.95 615.13,342.68 613.8,344.6 C612.47,346.52 610.73,349.22 609.2,351.5 C607.67,353.78 606.13,355.83 604.6,358.3 C603.07,360.77 601.52,364 600,366.3 C598.48,368.6 597.22,370.75 595.5,372.1 C593.78,373.45 591.42,374.4 589.7,374.4 C587.98,374.4 586.9,371.35 585.2,372.1 C583.5,372.85 581.22,376.62 579.5,378.9 C577.78,381.18 576.43,383.7 574.9,385.8 C573.37,387.9 571.83,389.78 570.3,391.5 C568.77,393.22 567.22,395.53 565.7,396.1 C564.18,396.67 562.65,396.43 561.2,394.9 C559.75,393.37 557.7,388.23 557,386.9 Z" fill="#e6c47a" fill-opacity="0.30" stroke="none"/>
<path d="M557,378.9 C557.32,380.05 558.02,384.27 558.9,385.8 C559.78,387.33 561.17,387.92 562.3,388.1 C563.43,388.28 564.37,388.05 565.7,386.9 C567.03,385.75 568.77,383.1 570.3,381.2 C571.83,379.3 573.37,377.6 574.9,375.5 C576.43,373.4 577.78,370.88 579.5,368.6 C581.22,366.32 583.5,362.55 585.2,361.8 C586.9,361.05 587.98,363.92 589.7,364.1 C591.42,364.28 593.78,364.05 595.5,362.9 C597.22,361.75 598.48,359.48 600,357.2 C601.52,354.92 603.07,351.68 604.6,349.2 C606.13,346.72 607.72,344.58 609.2,342.3 C610.68,340.02 612.2,337.38 613.5,335.5 C614.8,333.62 615.83,331.95 617,331 C618.17,330.05 619.23,329.63 620.5,329.8 C621.77,329.97 623.15,330.68 624.6,332 C626.05,333.32 627.68,336.17 629.2,337.7 C630.72,339.23 632.18,340.82 633.7,341.2 C635.22,341.58 636.77,340.38 638.3,340 C639.83,339.62 641.37,338.7 642.9,338.9 C644.43,339.1 645.98,340.25 647.5,341.2 C649.02,342.15 650.48,343.47 652,344.6 C653.52,345.73 655.07,347.05 656.6,348 C658.13,348.95 659.67,349.33 661.2,350.3 C662.73,351.27 664.28,352.47 665.8,353.8 C667.32,355.13 668.97,356.78 670.3,358.3 C671.63,359.82 672.83,361.75 673.8,362.9 C674.77,364.05 675.72,364.82 676.1,365.2" fill="none" stroke="#dcb45f" stroke-width="1.5" stroke-linejoin="round" stroke-linecap="round"/>
<path d="M557,361.8 C557.32,362.75 558.02,365.78 558.9,367.5 C559.78,369.22 560.97,370.95 562.3,372.1 C563.63,373.25 565.57,372.88 566.9,374.4 C568.23,375.92 569.17,379.57 570.3,381.2 C571.43,382.83 572.37,384 573.7,384.2 C575.03,384.4 576.58,383.67 578.3,382.4 C580.02,381.13 582.1,377.93 584,376.6 C585.9,375.27 587.98,374.77 589.7,374.4 C591.42,374.03 592.77,374.52 594.3,374.4 C595.83,374.28 597.37,373.13 598.9,373.7 C600.43,374.27 601.97,376.35 603.5,377.8 C605.03,379.25 606.77,382.22 608.1,382.4 C609.43,382.58 610.42,381.8 611.5,378.9 C612.58,376 613.67,369.38 614.6,365 C615.53,360.62 616.2,355.23 617.1,352.6 C618,349.97 618.95,348.82 620,349.2 C621.05,349.58 622.25,352.5 623.4,354.9 C624.55,357.3 625.83,361.88 626.9,363.6 C627.97,365.32 628.78,365.88 629.8,365.2 C630.82,364.52 631.85,362.93 633,359.5 C634.15,356.07 635.43,349.18 636.7,344.6 C637.97,340.02 639.38,333.72 640.6,332 C641.82,330.28 642.85,332 644,334.3 C645.15,336.6 646.35,342.55 647.5,345.8 C648.65,349.05 649.57,352.08 650.9,353.8 C652.23,355.52 653.98,356.3 655.5,356.1 C657.02,355.9 658.48,354.32 660,352.6 C661.52,350.88 663.07,347.52 664.6,345.8 C666.13,344.08 667.87,342.68 669.2,342.3 C670.53,341.92 671.45,342.35 672.6,343.5 C673.75,344.65 675.52,348.25 676.1,349.2" fill="none" stroke="#3fb1a5" stroke-width="1.5" stroke-linejoin="round" stroke-linecap="round"/>
<line x1="39.4" y1="293.2" x2="39.4" y2="414" stroke="#2a2a2a" stroke-width="1.1" />
<line x1="38.8" y1="413.5" x2="170.1" y2="413.5" stroke="#2a2a2a" stroke-width="1.3" />
<line x1="189.3" y1="413.5" x2="320.6" y2="413.5" stroke="#2a2a2a" stroke-width="1.3" />
<line x1="404.8" y1="293.2" x2="404.8" y2="414" stroke="#2a2a2a" stroke-width="1.1" />
<line x1="404.2" y1="413.5" x2="535.1" y2="413.5" stroke="#2a2a2a" stroke-width="1.3" />
<line x1="554.3" y1="413.5" x2="678.2" y2="413.5" stroke="#2a2a2a" stroke-width="1.3" />
<line x1="107.3" y1="294.2" x2="107.3" y2="413" stroke="#111" stroke-width="0.9" stroke-dasharray="3.2,1.8"/>
<line x1="251.4" y1="294.4" x2="251.4" y2="413" stroke="#111" stroke-width="0.9" stroke-dasharray="3.2,1.8"/>
<line x1="472.8" y1="292" x2="472.8" y2="413" stroke="#111" stroke-width="0.9" stroke-dasharray="3.2,1.8"/>
<line x1="616.7" y1="294" x2="616.7" y2="413" stroke="#111" stroke-width="0.9" stroke-dasharray="3.2,1.8"/>
<line x1="76.9" y1="298.85" x2="104" y2="298.85" stroke="#000" stroke-width="3.6" />
<line x1="116.9" y1="298.85" x2="126.9" y2="298.85" stroke="#000" stroke-width="3.6" />
<line x1="444.3" y1="313.4" x2="474" y2="313.4" stroke="#000" stroke-width="3.6" />
<line x1="480.2" y1="313.4" x2="498.8" y2="313.4" stroke="#000" stroke-width="3.6" />
<text x="33.4" y="303" font-size="8.6" text-anchor="end" fill="#222" >1.25</text>
<text x="33.4" y="335.3" font-size="8.6" text-anchor="end" fill="#222" >1.15</text>
<text x="33.4" y="367.7" font-size="8.6" text-anchor="end" fill="#222" >1.05</text>
<text x="33.4" y="399.3" font-size="8.6" text-anchor="end" fill="#222" >0.95</text>
<text x="400.2" y="298.7" font-size="8.6" text-anchor="end" fill="#222" >1.14</text>
<text x="400.2" y="325.6" font-size="8.6" text-anchor="end" fill="#222" >1.10</text>
<text x="400.2" y="351.8" font-size="8.6" text-anchor="end" fill="#222" >1.06</text>
<text x="400.2" y="378.8" font-size="8.6" text-anchor="end" fill="#222" >1.02</text>
<text x="400.2" y="406.5" font-size="8.6" text-anchor="end" fill="#222" >0.98</text>
<text x="56.2" y="422.7" font-size="8.6" text-anchor="middle" fill="#222" >-0.4</text>
<text x="81" y="422.7" font-size="8.6" text-anchor="middle" fill="#222" >-0.2</text>
<text x="107.6" y="422.7" font-size="8.6" text-anchor="middle" fill="#222" >0</text>
<text x="131.1" y="422.7" font-size="8.6" text-anchor="middle" fill="#222" >0.2</text>
<text x="155.5" y="422.7" font-size="8.6" text-anchor="middle" fill="#222" >0.4</text>
<text x="200.5" y="422.7" font-size="8.6" text-anchor="middle" fill="#222" >-0.4</text>
<text x="225" y="422.7" font-size="8.6" text-anchor="middle" fill="#222" >-0.2</text>
<text x="251.7" y="422.7" font-size="8.6" text-anchor="middle" fill="#222" >0</text>
<text x="275.2" y="422.7" font-size="8.6" text-anchor="middle" fill="#222" >0.2</text>
<text x="300.1" y="422.7" font-size="8.6" text-anchor="middle" fill="#222" >0.4</text>
<text x="420.9" y="422.7" font-size="8.6" text-anchor="middle" fill="#222" >-0.4</text>
<text x="446" y="422.7" font-size="8.6" text-anchor="middle" fill="#222" >-0.2</text>
<text x="472.9" y="422.7" font-size="8.6" text-anchor="middle" fill="#222" >0</text>
<text x="496.4" y="422.7" font-size="8.6" text-anchor="middle" fill="#222" >0.2</text>
<text x="520.6" y="422.7" font-size="8.6" text-anchor="middle" fill="#222" >0.4</text>
<text x="565.4" y="422.7" font-size="8.6" text-anchor="middle" fill="#222" >-0.4</text>
<text x="590.1" y="422.7" font-size="8.6" text-anchor="middle" fill="#222" >-0.2</text>
<text x="617" y="422.7" font-size="8.6" text-anchor="middle" fill="#222" >0</text>
<text x="640.2" y="422.7" font-size="8.6" text-anchor="middle" fill="#222" >0.2</text>
<text x="664.8" y="422.7" font-size="8.6" text-anchor="middle" fill="#222" >0.4</text>
<text x="107.2" y="434.6" font-size="8.8" text-anchor="middle" fill="#222" textLength="32.4" lengthAdjust="spacingAndGlyphs" >Time (s)</text>
<text x="252.3" y="434.6" font-size="8.8" text-anchor="middle" fill="#222" textLength="32.4" lengthAdjust="spacingAndGlyphs" >Time (s)</text>
<text x="472.5" y="434.6" font-size="8.8" text-anchor="middle" fill="#222" textLength="32.4" lengthAdjust="spacingAndGlyphs" >Time (s)</text>
<text x="616.3" y="434.6" font-size="8.8" text-anchor="middle" fill="#222" textLength="32.4" lengthAdjust="spacingAndGlyphs" >Time (s)</text>
<text x="0" y="0" font-size="8.4" text-anchor="middle" fill="#222" textLength="77.5" lengthAdjust="spacingAndGlyphs" transform="translate(6.3,359.5) rotate(-90)">Mean High-Gamma</text>
<text x="0" y="0" font-size="8.4" text-anchor="middle" fill="#222" textLength="77" lengthAdjust="spacingAndGlyphs" transform="translate(370.6,359.6) rotate(-90)">Mean High-Gamma</text>
<line x1="130" y1="308.2" x2="146.6" y2="308.2" stroke="#3fb1a5" stroke-width="1.3" />
<line x1="130" y1="320.8" x2="146.6" y2="320.8" stroke="#e6c47a" stroke-width="1.3" />
<text x="149.8" y="311.9" font-size="8.8" text-anchor="start" fill="#222" textLength="41.9" lengthAdjust="spacingAndGlyphs" >CoM Trials</text>
<text x="149.8" y="324.5" font-size="8.8" text-anchor="start" fill="#222" textLength="62" lengthAdjust="spacingAndGlyphs" >Non-CoM Trials</text>
<line x1="507.3" y1="311.1" x2="523.9" y2="311.1" stroke="#3fb1a5" stroke-width="1.3" />
<line x1="507.3" y1="323.7" x2="523.9" y2="323.7" stroke="#e6c47a" stroke-width="1.3" />
<text x="526.9" y="314.8" font-size="8.8" text-anchor="start" fill="#222" textLength="41.9" lengthAdjust="spacingAndGlyphs" >CoM Trials</text>
<text x="526.9" y="327.4" font-size="8.8" text-anchor="start" fill="#222" textLength="62" lengthAdjust="spacingAndGlyphs" >Non-CoM Trials</text>
<text x="167" y="293.9" font-size="8.8" text-anchor="start" fill="#222" textLength="24" lengthAdjust="spacingAndGlyphs" >pSMA</text>
<text x="532.9" y="293.9" font-size="8.8" text-anchor="start" fill="#222" textLength="22.3" lengthAdjust="spacingAndGlyphs" >Insula</text>
<path d="M48.9,284.5 L65,273.3 L149.6,273.3 L165,284.5" fill="none" stroke="#111" stroke-width="1.1"/>
<path d="M194,284.5 L210.2,273.3 L295.3,273.3 L310.2,284.5" fill="none" stroke="#111" stroke-width="1.1"/>
<path d="M414.2,284.5 L430,273.3 L514.8,273.3 L530,284.5" fill="none" stroke="#111" stroke-width="1.1"/>
<path d="M559.2,284.5 L575,273.3 L660.2,273.3 L675,284.5" fill="none" stroke="#111" stroke-width="1.1"/>
<text x="106.7" y="255.9" font-size="8.8" text-anchor="middle" fill="#111" textLength="90.3" lengthAdjust="spacingAndGlyphs" >CoM/nCoM&#160; aligned on</text>
<text x="108.2" y="266.7" font-size="8.8" text-anchor="middle" fill="#111" textLength="75" lengthAdjust="spacingAndGlyphs" >CoM/CoM-like time</text>
<text x="472.1" y="255.9" font-size="8.8" text-anchor="middle" fill="#111" textLength="90.3" lengthAdjust="spacingAndGlyphs" >CoM/nCoM&#160; aligned on</text>
<text x="473.1" y="266.7" font-size="8.8" text-anchor="middle" fill="#111" textLength="75" lengthAdjust="spacingAndGlyphs" >CoM/CoM-like time</text>
<text x="252.3" y="256.1" font-size="8.8" text-anchor="middle" fill="#111" textLength="88" lengthAdjust="spacingAndGlyphs" >CoM/nCoM aligned on</text>
<text x="253.4" y="267.3" font-size="8.8" text-anchor="middle" fill="#111" textLength="51.3" lengthAdjust="spacingAndGlyphs" >decision time</text>
<text x="617.5" y="256.1" font-size="8.8" text-anchor="middle" fill="#111" textLength="88" lengthAdjust="spacingAndGlyphs" >CoM/nCoM aligned on</text>
<text x="618.4" y="267.3" font-size="8.8" text-anchor="middle" fill="#111" textLength="51.3" lengthAdjust="spacingAndGlyphs" >decision time</text>
<g fill="none" stroke="#000" stroke-width="2" stroke-linecap="round" stroke-linejoin="round" transform="translate(96.8,289.4)"><path d="M0,0 H9.35 A4.15,4.15 0 1 0 5.3,-3.1"/><path d="M14,0 H21.6 M18.7,-2.9 L21.8,0 L18.7,2.9"/></g>
<g fill="none" stroke="#000" stroke-width="2" stroke-linecap="round" stroke-linejoin="round" transform="translate(223.3,288.8)"><path d="M0,0 H9.35 A4.15,4.15 0 1 0 5.3,-3.1"/><path d="M14,0 H21.6 M18.7,-2.9 L21.8,0 L18.7,2.9"/></g>
<g fill="none" stroke="#000" stroke-width="2" stroke-linecap="round" stroke-linejoin="round" transform="translate(461.1,289.3)"><path d="M0,0 H9.35 A4.15,4.15 0 1 0 5.3,-3.1"/><path d="M14,0 H21.6 M18.7,-2.9 L21.8,0 L18.7,2.9"/></g>
<g fill="none" stroke="#000" stroke-width="2" stroke-linecap="round" stroke-linejoin="round" transform="translate(589.1,288.8)"><path d="M0,0 H9.35 A4.15,4.15 0 1 0 5.3,-3.1"/><path d="M14,0 H21.6 M18.7,-2.9 L21.8,0 L18.7,2.9"/></g>
<path d="M249,290.8 L253.1,280.5" stroke="#000" stroke-width="1.5" stroke-linecap="round"/>
<g stroke="#666" stroke-width="1.2" stroke-linecap="round" transform="translate(249,290.8)"><path d="M9.4,-9.3 H14.3 M6.2,-6.6 H11.5 M5.3,-3.7 H9.4 M7,-0.4 H11.9"/></g>
<path d="M0,0 L-5.1,11.2 L-1.4,9.6 L-1.4,16.9 L1.4,16.9 L1.4,9.6 L5.1,11.2 Z" fill="#000" stroke="#000" stroke-width="0.4" stroke-linejoin="round" transform="translate(269.9,278.1) rotate(23)"/>
<path d="M615.3,290.8 L619.4,280.5" stroke="#000" stroke-width="1.5" stroke-linecap="round"/>
<g stroke="#666" stroke-width="1.2" stroke-linecap="round" transform="translate(615.3,290.8)"><path d="M9.4,-9.3 H14.3 M6.2,-6.6 H11.5 M5.3,-3.7 H9.4 M7,-0.4 H11.9"/></g>
<path d="M0,0 L-5.1,11.2 L-1.4,9.6 L-1.4,16.9 L1.4,16.9 L1.4,9.6 L5.1,11.2 Z" fill="#000" stroke="#000" stroke-width="0.4" stroke-linejoin="round" transform="translate(636.2,278.1) rotate(23)"/>
</svg>
</body></html>
